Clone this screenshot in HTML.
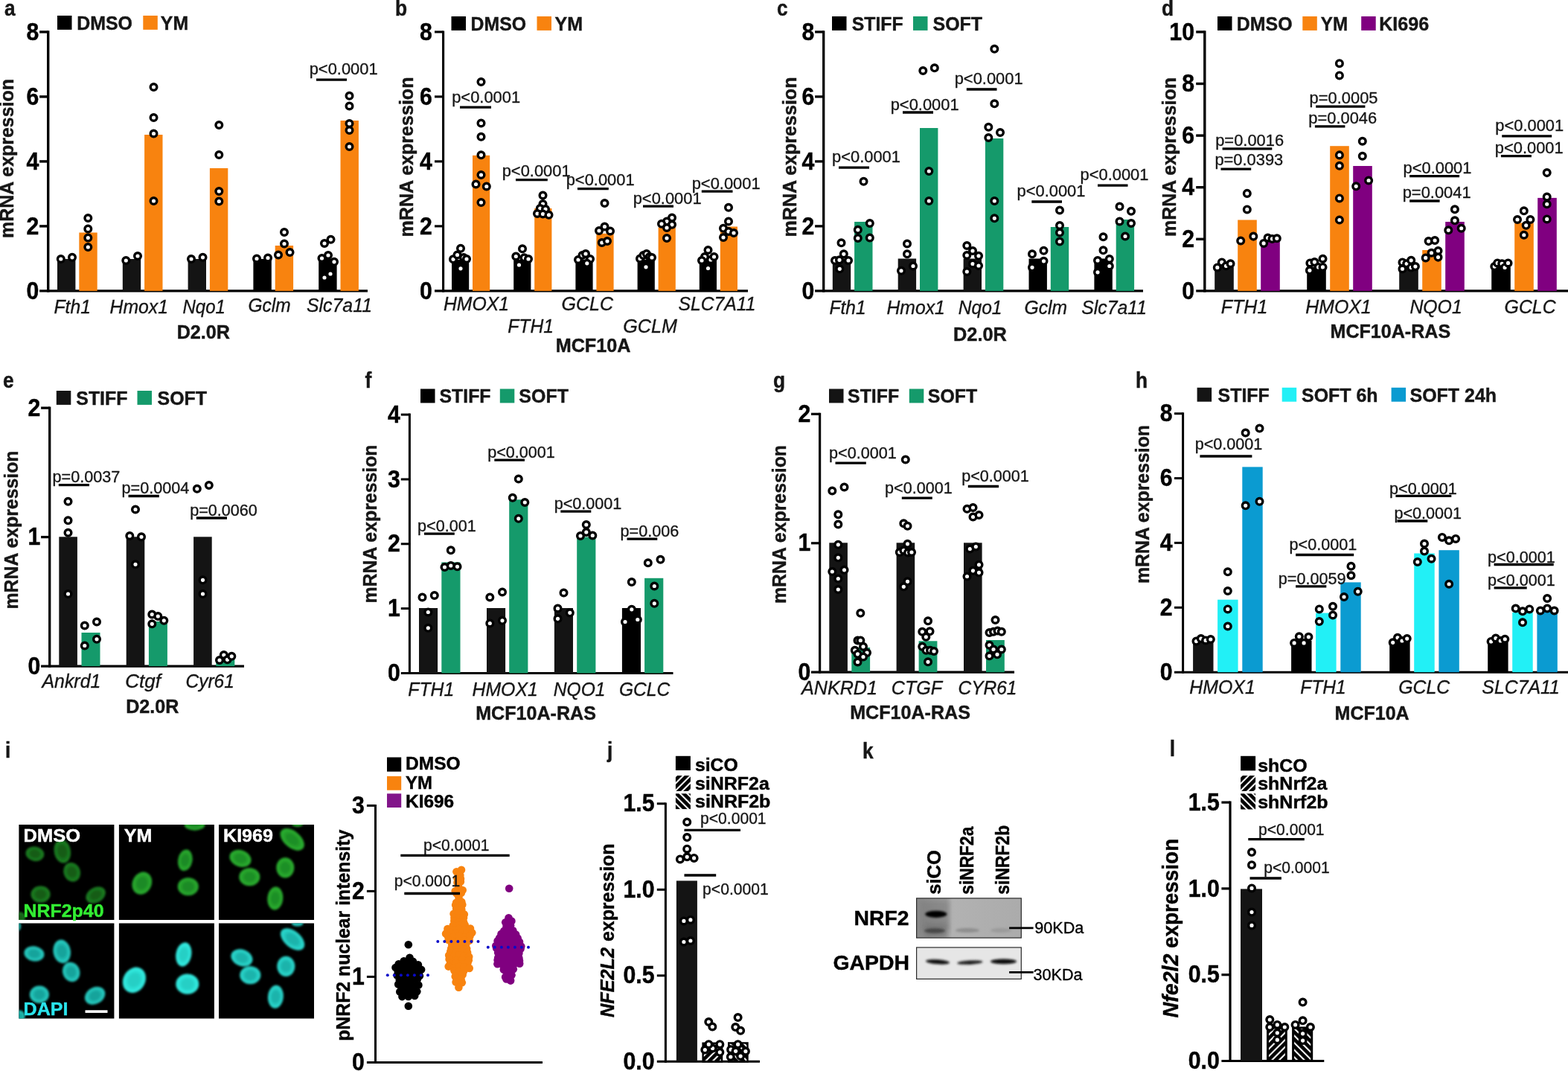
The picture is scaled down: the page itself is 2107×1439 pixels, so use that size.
<!DOCTYPE html>
<html lang="en"><head><meta charset="utf-8"><title>Figure</title>
<style>
html,body{margin:0;padding:0;background:#fff;}
body{width:2107px;height:1439px;overflow:hidden;}
svg{display:block;font-family:'Liberation Sans', Arial, Helvetica, sans-serif;}
svg text{font-family:"Liberation Sans",Arial,Helvetica,sans-serif;}
</style></head><body>
<svg width="2107" height="1439" viewBox="0 0 2107 1439">
<rect width="2107" height="1439" fill="#fff"/>
<text x="6.0" y="20.5" font-size="29" font-weight="700" textLength="14.6" lengthAdjust="spacingAndGlyphs" fill="#161616" stroke="#161616" stroke-width="0.45">a</text>
<rect x="77.0" y="21.0" width="19.5" height="18.9" fill="#000"/>
<text x="103.2" y="39.8" font-size="26" font-weight="700" textLength="74.8" lengthAdjust="spacingAndGlyphs" fill="#161616" stroke="#161616" stroke-width="0.45">DMSO</text>
<rect x="192.3" y="21.0" width="19.5" height="18.9" fill="#f8830f"/>
<text x="215.8" y="39.8" font-size="26" font-weight="700" textLength="37.3" lengthAdjust="spacingAndGlyphs" fill="#161616" stroke="#161616" stroke-width="0.45">YM</text>
<line x1="64.7" y1="41.2" x2="64.7" y2="392.6" stroke="#000" stroke-width="3.4"/>
<line x1="53.1" y1="390.9" x2="494.0" y2="390.9" stroke="#000" stroke-width="3.4"/>
<line x1="53.1" y1="42.9" x2="64.7" y2="42.9" stroke="#000" stroke-width="3.4"/>
<text x="52.4" y="53.5" font-size="32.5" font-weight="700" text-anchor="end" textLength="16.8" lengthAdjust="spacingAndGlyphs" stroke="#000" stroke-width="0.45">8</text>
<line x1="53.1" y1="129.9" x2="64.7" y2="129.9" stroke="#000" stroke-width="3.4"/>
<text x="52.4" y="140.5" font-size="32.5" font-weight="700" text-anchor="end" textLength="16.8" lengthAdjust="spacingAndGlyphs" stroke="#000" stroke-width="0.45">6</text>
<line x1="53.1" y1="216.9" x2="64.7" y2="216.9" stroke="#000" stroke-width="3.4"/>
<text x="52.4" y="227.5" font-size="32.5" font-weight="700" text-anchor="end" textLength="16.8" lengthAdjust="spacingAndGlyphs" stroke="#000" stroke-width="0.45">4</text>
<line x1="53.1" y1="303.9" x2="64.7" y2="303.9" stroke="#000" stroke-width="3.4"/>
<text x="52.4" y="314.5" font-size="32.5" font-weight="700" text-anchor="end" textLength="16.8" lengthAdjust="spacingAndGlyphs" stroke="#000" stroke-width="0.45">2</text>
<text x="52.4" y="401.5" font-size="32.5" font-weight="700" text-anchor="end" textLength="16.8" lengthAdjust="spacingAndGlyphs" stroke="#000" stroke-width="0.45">0</text>
<text x="18.3" y="213.0" font-size="25" font-weight="700" text-anchor="middle" textLength="214.0" lengthAdjust="spacingAndGlyphs" fill="#161616" stroke="#161616" stroke-width="0.45" transform="rotate(-90 18.3 213.0)">mRNA expression</text>
<rect x="77.0" y="348.0" width="24.4" height="42.9" fill="#141414"/>
<rect x="106.3" y="312.5" width="24.4" height="78.4" fill="#f8830f"/>
<rect x="164.8" y="348.0" width="24.4" height="42.9" fill="#141414"/>
<rect x="194.1" y="181.0" width="24.4" height="209.9" fill="#f8830f"/>
<rect x="252.6" y="348.0" width="24.4" height="42.9" fill="#141414"/>
<rect x="281.9" y="226.0" width="24.4" height="164.9" fill="#f8830f"/>
<rect x="340.4" y="348.0" width="24.4" height="42.9" fill="#000"/>
<rect x="369.7" y="330.0" width="24.4" height="60.9" fill="#f8830f"/>
<rect x="428.2" y="348.0" width="24.4" height="42.9" fill="#000"/>
<rect x="457.5" y="162.0" width="24.4" height="228.9" fill="#f8830f"/>
<circle cx="81.8" cy="348.0" r="4.3" fill="#fff" stroke="#000" stroke-width="3.45"/>
<circle cx="97.0" cy="345.8" r="4.3" fill="#fff" stroke="#000" stroke-width="3.45"/>
<circle cx="118.3" cy="293.0" r="4.3" fill="#fff" stroke="#000" stroke-width="3.45"/>
<circle cx="118.3" cy="307.5" r="4.3" fill="#fff" stroke="#000" stroke-width="3.45"/>
<circle cx="118.3" cy="319.5" r="4.3" fill="#fff" stroke="#000" stroke-width="3.45"/>
<circle cx="118.3" cy="332.0" r="4.3" fill="#fff" stroke="#000" stroke-width="3.45"/>
<circle cx="169.3" cy="350.0" r="4.3" fill="#fff" stroke="#000" stroke-width="3.45"/>
<circle cx="185.0" cy="344.0" r="4.3" fill="#fff" stroke="#000" stroke-width="3.45"/>
<circle cx="206.5" cy="117.0" r="4.3" fill="#fff" stroke="#000" stroke-width="3.45"/>
<circle cx="206.5" cy="158.0" r="4.3" fill="#fff" stroke="#000" stroke-width="3.45"/>
<circle cx="206.5" cy="179.5" r="4.3" fill="#fff" stroke="#000" stroke-width="3.45"/>
<circle cx="206.5" cy="270.0" r="4.3" fill="#fff" stroke="#000" stroke-width="3.45"/>
<circle cx="257.0" cy="348.0" r="4.3" fill="#fff" stroke="#000" stroke-width="3.45"/>
<circle cx="272.5" cy="345.8" r="4.3" fill="#fff" stroke="#000" stroke-width="3.45"/>
<circle cx="294.3" cy="168.0" r="4.3" fill="#fff" stroke="#000" stroke-width="3.45"/>
<circle cx="294.3" cy="208.0" r="4.3" fill="#fff" stroke="#000" stroke-width="3.45"/>
<circle cx="294.3" cy="257.0" r="4.3" fill="#fff" stroke="#000" stroke-width="3.45"/>
<circle cx="294.3" cy="270.5" r="4.3" fill="#fff" stroke="#000" stroke-width="3.45"/>
<circle cx="345.0" cy="347.5" r="4.3" fill="#fff" stroke="#000" stroke-width="3.45"/>
<circle cx="360.0" cy="346.5" r="4.3" fill="#fff" stroke="#000" stroke-width="3.45"/>
<circle cx="382.0" cy="312.0" r="4.3" fill="#fff" stroke="#000" stroke-width="3.45"/>
<circle cx="382.0" cy="327.5" r="4.3" fill="#fff" stroke="#000" stroke-width="3.45"/>
<circle cx="374.0" cy="342.5" r="4.3" fill="#fff" stroke="#000" stroke-width="3.45"/>
<circle cx="389.5" cy="339.0" r="4.3" fill="#fff" stroke="#000" stroke-width="3.45"/>
<circle cx="436.0" cy="327.0" r="4.3" fill="#fff" stroke="#000" stroke-width="3.45"/>
<circle cx="444.5" cy="321.8" r="4.3" fill="#fff" stroke="#000" stroke-width="3.45"/>
<circle cx="432.5" cy="347.0" r="4.3" fill="#fff" stroke="#000" stroke-width="3.45"/>
<circle cx="441.0" cy="343.0" r="4.3" fill="#fff" stroke="#000" stroke-width="3.45"/>
<circle cx="449.0" cy="351.8" r="4.3" fill="#fff" stroke="#000" stroke-width="3.45"/>
<circle cx="444.0" cy="368.0" r="4.3" fill="#fff" stroke="#000" stroke-width="3.45"/>
<circle cx="436.0" cy="373.0" r="4.3" fill="#fff" stroke="#000" stroke-width="3.45"/>
<circle cx="469.5" cy="128.8" r="4.3" fill="#fff" stroke="#000" stroke-width="3.45"/>
<circle cx="469.5" cy="142.5" r="4.3" fill="#fff" stroke="#000" stroke-width="3.45"/>
<circle cx="469.5" cy="166.0" r="4.3" fill="#fff" stroke="#000" stroke-width="3.45"/>
<circle cx="469.5" cy="175.0" r="4.3" fill="#fff" stroke="#000" stroke-width="3.45"/>
<circle cx="469.5" cy="197.0" r="4.3" fill="#fff" stroke="#000" stroke-width="3.45"/>
<text x="415.7" y="100.0" font-size="22.8" textLength="91.9" lengthAdjust="spacingAndGlyphs" fill="#161616" stroke="#161616" stroke-width="0.35">p&lt;0.0001</text>
<line x1="425.0" y1="107.2" x2="466.0" y2="107.2" stroke="#000" stroke-width="3.3"/>
<text x="72.5" y="420.5" font-size="25.3" font-style="italic" textLength="49.5" lengthAdjust="spacingAndGlyphs" fill="#161616" stroke="#161616" stroke-width="0.35">Fth1</text>
<text x="147.5" y="420.5" font-size="25.3" font-style="italic" textLength="78.5" lengthAdjust="spacingAndGlyphs" fill="#161616" stroke="#161616" stroke-width="0.35">Hmox1</text>
<text x="245.5" y="420.5" font-size="25.3" font-style="italic" textLength="57.5" lengthAdjust="spacingAndGlyphs" fill="#161616" stroke="#161616" stroke-width="0.35">Nqo1</text>
<text x="333.5" y="419.0" font-size="25.3" font-style="italic" textLength="57.0" lengthAdjust="spacingAndGlyphs" fill="#161616" stroke="#161616" stroke-width="0.35">Gclm</text>
<text x="412.0" y="419.0" font-size="25.3" font-style="italic" textLength="88.0" lengthAdjust="spacingAndGlyphs" fill="#161616" stroke="#161616" stroke-width="0.35">Slc7a11</text>
<text x="237.7" y="455.0" font-size="25" font-weight="700" textLength="71.3" lengthAdjust="spacingAndGlyphs" fill="#161616" stroke="#161616" stroke-width="0.45">D2.0R</text>
<text x="531.0" y="20.5" font-size="29" font-weight="700" textLength="16.1" lengthAdjust="spacingAndGlyphs" fill="#161616" stroke="#161616" stroke-width="0.45">b</text>
<rect x="606.5" y="22.0" width="19.5" height="18.9" fill="#000"/>
<text x="632.6" y="40.8" font-size="26" font-weight="700" textLength="74.5" lengthAdjust="spacingAndGlyphs" fill="#161616" stroke="#161616" stroke-width="0.45">DMSO</text>
<rect x="721.5" y="22.0" width="19.5" height="18.9" fill="#f8830f"/>
<text x="745.6" y="40.8" font-size="26" font-weight="700" textLength="37.5" lengthAdjust="spacingAndGlyphs" fill="#161616" stroke="#161616" stroke-width="0.45">YM</text>
<line x1="595.6" y1="41.4" x2="595.6" y2="392.4" stroke="#000" stroke-width="3.1"/>
<line x1="584.0" y1="390.9" x2="1005.0" y2="390.9" stroke="#000" stroke-width="3.1"/>
<line x1="584.0" y1="42.9" x2="595.6" y2="42.9" stroke="#000" stroke-width="3.1"/>
<text x="580.9" y="53.5" font-size="32.5" font-weight="700" text-anchor="end" textLength="16.8" lengthAdjust="spacingAndGlyphs" stroke="#000" stroke-width="0.45">8</text>
<line x1="584.0" y1="129.9" x2="595.6" y2="129.9" stroke="#000" stroke-width="3.1"/>
<text x="580.9" y="140.5" font-size="32.5" font-weight="700" text-anchor="end" textLength="16.8" lengthAdjust="spacingAndGlyphs" stroke="#000" stroke-width="0.45">6</text>
<line x1="584.0" y1="216.9" x2="595.6" y2="216.9" stroke="#000" stroke-width="3.1"/>
<text x="580.9" y="227.5" font-size="32.5" font-weight="700" text-anchor="end" textLength="16.8" lengthAdjust="spacingAndGlyphs" stroke="#000" stroke-width="0.45">4</text>
<line x1="584.0" y1="303.9" x2="595.6" y2="303.9" stroke="#000" stroke-width="3.1"/>
<text x="580.9" y="314.5" font-size="32.5" font-weight="700" text-anchor="end" textLength="16.8" lengthAdjust="spacingAndGlyphs" stroke="#000" stroke-width="0.45">2</text>
<text x="580.9" y="401.5" font-size="32.5" font-weight="700" text-anchor="end" textLength="16.8" lengthAdjust="spacingAndGlyphs" stroke="#000" stroke-width="0.45">0</text>
<text x="554.5" y="211.0" font-size="25" font-weight="700" text-anchor="middle" textLength="215.0" lengthAdjust="spacingAndGlyphs" fill="#161616" stroke="#161616" stroke-width="0.45" transform="rotate(-90 554.5 211.0)">mRNA expression</text>
<rect x="607.0" y="348.8" width="23.2" height="42.1" fill="#000"/>
<rect x="635.0" y="208.8" width="23.2" height="182.1" fill="#f8830f"/>
<rect x="690.2" y="348.8" width="23.2" height="42.1" fill="#000"/>
<rect x="718.2" y="280.0" width="23.2" height="110.9" fill="#f8830f"/>
<rect x="773.4" y="348.8" width="23.2" height="42.1" fill="#000"/>
<rect x="801.4" y="313.8" width="23.2" height="77.1" fill="#f8830f"/>
<rect x="856.6" y="348.8" width="23.2" height="42.1" fill="#000"/>
<rect x="884.6" y="305.5" width="23.2" height="85.4" fill="#f8830f"/>
<rect x="939.8" y="348.8" width="23.2" height="42.1" fill="#000"/>
<rect x="967.8" y="304.5" width="23.2" height="86.4" fill="#f8830f"/>
<circle cx="609.0" cy="348.3" r="4.3" fill="#fff" stroke="#000" stroke-width="3.45"/>
<circle cx="614.5" cy="342.5" r="4.3" fill="#fff" stroke="#000" stroke-width="3.45"/>
<circle cx="619.0" cy="333.8" r="4.3" fill="#fff" stroke="#000" stroke-width="3.45"/>
<circle cx="623.0" cy="346.0" r="4.3" fill="#fff" stroke="#000" stroke-width="3.45"/>
<circle cx="627.0" cy="348.0" r="4.3" fill="#fff" stroke="#000" stroke-width="3.45"/>
<circle cx="619.0" cy="360.8" r="4.3" fill="#fff" stroke="#000" stroke-width="3.45"/>
<circle cx="646.5" cy="110.0" r="4.3" fill="#fff" stroke="#000" stroke-width="3.45"/>
<circle cx="646.5" cy="165.5" r="4.3" fill="#fff" stroke="#000" stroke-width="3.45"/>
<circle cx="646.5" cy="183.8" r="4.3" fill="#fff" stroke="#000" stroke-width="3.45"/>
<circle cx="646.5" cy="208.3" r="4.3" fill="#fff" stroke="#000" stroke-width="3.45"/>
<circle cx="646.5" cy="235.0" r="4.3" fill="#fff" stroke="#000" stroke-width="3.45"/>
<circle cx="639.5" cy="247.5" r="4.3" fill="#fff" stroke="#000" stroke-width="3.45"/>
<circle cx="653.8" cy="250.5" r="4.3" fill="#fff" stroke="#000" stroke-width="3.45"/>
<circle cx="646.5" cy="272.0" r="4.3" fill="#fff" stroke="#000" stroke-width="3.45"/>
<circle cx="702.0" cy="334.3" r="4.3" fill="#fff" stroke="#000" stroke-width="3.45"/>
<circle cx="693.3" cy="344.5" r="4.3" fill="#fff" stroke="#000" stroke-width="3.45"/>
<circle cx="704.5" cy="346.3" r="4.3" fill="#fff" stroke="#000" stroke-width="3.45"/>
<circle cx="710.0" cy="348.0" r="4.3" fill="#fff" stroke="#000" stroke-width="3.45"/>
<circle cx="697.5" cy="356.0" r="4.3" fill="#fff" stroke="#000" stroke-width="3.45"/>
<circle cx="729.5" cy="262.5" r="4.3" fill="#fff" stroke="#000" stroke-width="3.45"/>
<circle cx="729.5" cy="274.0" r="4.3" fill="#fff" stroke="#000" stroke-width="3.45"/>
<circle cx="725.8" cy="280.0" r="4.3" fill="#fff" stroke="#000" stroke-width="3.45"/>
<circle cx="733.0" cy="281.0" r="4.3" fill="#fff" stroke="#000" stroke-width="3.45"/>
<circle cx="722.0" cy="287.0" r="4.3" fill="#fff" stroke="#000" stroke-width="3.45"/>
<circle cx="729.5" cy="287.5" r="4.3" fill="#fff" stroke="#000" stroke-width="3.45"/>
<circle cx="737.5" cy="288.8" r="4.3" fill="#fff" stroke="#000" stroke-width="3.45"/>
<circle cx="777.0" cy="349.0" r="4.3" fill="#fff" stroke="#000" stroke-width="3.45"/>
<circle cx="782.5" cy="343.0" r="4.3" fill="#fff" stroke="#000" stroke-width="3.45"/>
<circle cx="787.0" cy="341.0" r="4.3" fill="#fff" stroke="#000" stroke-width="3.45"/>
<circle cx="793.0" cy="348.0" r="4.3" fill="#fff" stroke="#000" stroke-width="3.45"/>
<circle cx="788.8" cy="353.8" r="4.3" fill="#fff" stroke="#000" stroke-width="3.45"/>
<circle cx="812.5" cy="273.0" r="4.3" fill="#fff" stroke="#000" stroke-width="3.45"/>
<circle cx="812.5" cy="304.5" r="4.3" fill="#fff" stroke="#000" stroke-width="3.45"/>
<circle cx="805.0" cy="310.0" r="4.3" fill="#fff" stroke="#000" stroke-width="3.45"/>
<circle cx="820.0" cy="310.5" r="4.3" fill="#fff" stroke="#000" stroke-width="3.45"/>
<circle cx="808.8" cy="326.0" r="4.3" fill="#fff" stroke="#000" stroke-width="3.45"/>
<circle cx="816.0" cy="324.0" r="4.3" fill="#fff" stroke="#000" stroke-width="3.45"/>
<circle cx="860.0" cy="347.5" r="4.3" fill="#fff" stroke="#000" stroke-width="3.45"/>
<circle cx="864.5" cy="343.0" r="4.3" fill="#fff" stroke="#000" stroke-width="3.45"/>
<circle cx="868.8" cy="341.0" r="4.3" fill="#fff" stroke="#000" stroke-width="3.45"/>
<circle cx="872.8" cy="345.0" r="4.3" fill="#fff" stroke="#000" stroke-width="3.45"/>
<circle cx="876.0" cy="346.0" r="4.3" fill="#fff" stroke="#000" stroke-width="3.45"/>
<circle cx="868.0" cy="358.8" r="4.3" fill="#fff" stroke="#000" stroke-width="3.45"/>
<circle cx="903.0" cy="292.5" r="4.3" fill="#fff" stroke="#000" stroke-width="3.45"/>
<circle cx="896.0" cy="297.5" r="4.3" fill="#fff" stroke="#000" stroke-width="3.45"/>
<circle cx="889.0" cy="300.8" r="4.3" fill="#fff" stroke="#000" stroke-width="3.45"/>
<circle cx="903.0" cy="301.8" r="4.3" fill="#fff" stroke="#000" stroke-width="3.45"/>
<circle cx="896.0" cy="306.0" r="4.3" fill="#fff" stroke="#000" stroke-width="3.45"/>
<circle cx="896.0" cy="320.0" r="4.3" fill="#fff" stroke="#000" stroke-width="3.45"/>
<circle cx="951.5" cy="336.0" r="4.3" fill="#fff" stroke="#000" stroke-width="3.45"/>
<circle cx="947.0" cy="345.0" r="4.3" fill="#fff" stroke="#000" stroke-width="3.45"/>
<circle cx="943.0" cy="350.0" r="4.3" fill="#fff" stroke="#000" stroke-width="3.45"/>
<circle cx="955.0" cy="349.0" r="4.3" fill="#fff" stroke="#000" stroke-width="3.45"/>
<circle cx="959.5" cy="345.0" r="4.3" fill="#fff" stroke="#000" stroke-width="3.45"/>
<circle cx="951.5" cy="360.5" r="4.3" fill="#fff" stroke="#000" stroke-width="3.45"/>
<circle cx="979.0" cy="278.8" r="4.3" fill="#fff" stroke="#000" stroke-width="3.45"/>
<circle cx="979.0" cy="297.5" r="4.3" fill="#fff" stroke="#000" stroke-width="3.45"/>
<circle cx="972.0" cy="306.8" r="4.3" fill="#fff" stroke="#000" stroke-width="3.45"/>
<circle cx="979.0" cy="311.0" r="4.3" fill="#fff" stroke="#000" stroke-width="3.45"/>
<circle cx="986.0" cy="313.0" r="4.3" fill="#fff" stroke="#000" stroke-width="3.45"/>
<circle cx="972.0" cy="319.0" r="4.3" fill="#fff" stroke="#000" stroke-width="3.45"/>
<text x="607.2" y="138.0" font-size="22.8" textLength="91.9" lengthAdjust="spacingAndGlyphs" fill="#161616" stroke="#161616" stroke-width="0.35">p&lt;0.0001</text>
<line x1="618.0" y1="144.2" x2="660.0" y2="144.2" stroke="#000" stroke-width="3.3"/>
<text x="674.7" y="237.0" font-size="22.8" textLength="91.9" lengthAdjust="spacingAndGlyphs" fill="#161616" stroke="#161616" stroke-width="0.35">p&lt;0.0001</text>
<line x1="693.0" y1="241.7" x2="735.8" y2="241.7" stroke="#000" stroke-width="3.3"/>
<text x="760.7" y="248.8" font-size="22.8" textLength="91.9" lengthAdjust="spacingAndGlyphs" fill="#161616" stroke="#161616" stroke-width="0.35">p&lt;0.0001</text>
<line x1="776.0" y1="253.7" x2="817.8" y2="253.7" stroke="#000" stroke-width="3.3"/>
<text x="850.7" y="274.0" font-size="22.8" textLength="91.9" lengthAdjust="spacingAndGlyphs" fill="#161616" stroke="#161616" stroke-width="0.35">p&lt;0.0001</text>
<line x1="864.0" y1="277.2" x2="905.0" y2="277.2" stroke="#000" stroke-width="3.3"/>
<text x="929.7" y="254.0" font-size="22.8" textLength="91.9" lengthAdjust="spacingAndGlyphs" fill="#161616" stroke="#161616" stroke-width="0.35">p&lt;0.0001</text>
<line x1="942.8" y1="257.2" x2="984.5" y2="257.2" stroke="#000" stroke-width="3.3"/>
<text x="596.0" y="417.0" font-size="25.3" font-style="italic" textLength="88.0" lengthAdjust="spacingAndGlyphs" fill="#161616" stroke="#161616" stroke-width="0.35">HMOX1</text>
<text x="754.5" y="417.0" font-size="25.3" font-style="italic" textLength="69.5" lengthAdjust="spacingAndGlyphs" fill="#161616" stroke="#161616" stroke-width="0.35">GCLC</text>
<text x="911.5" y="417.0" font-size="25.3" font-style="italic" textLength="104.0" lengthAdjust="spacingAndGlyphs" fill="#161616" stroke="#161616" stroke-width="0.35">SLC7A11</text>
<text x="682.3" y="447.0" font-size="25.3" font-style="italic" textLength="61.7" lengthAdjust="spacingAndGlyphs" fill="#161616" stroke="#161616" stroke-width="0.35">FTH1</text>
<text x="837.3" y="447.0" font-size="25.3" font-style="italic" textLength="72.7" lengthAdjust="spacingAndGlyphs" fill="#161616" stroke="#161616" stroke-width="0.35">GCLM</text>
<text x="746.7" y="472.5" font-size="25" font-weight="700" textLength="100.8" lengthAdjust="spacingAndGlyphs" fill="#161616" stroke="#161616" stroke-width="0.45">MCF10A</text>
<text x="1044.0" y="20.5" font-size="29" font-weight="700" textLength="14.6" lengthAdjust="spacingAndGlyphs" fill="#161616" stroke="#161616" stroke-width="0.45">c</text>
<rect x="1118.0" y="22.0" width="19.5" height="18.9" fill="#000"/>
<text x="1144.8" y="40.8" font-size="26" font-weight="700" textLength="68.8" lengthAdjust="spacingAndGlyphs" fill="#161616" stroke="#161616" stroke-width="0.45">STIFF</text>
<rect x="1227.0" y="22.0" width="19.5" height="18.9" fill="#159a6b"/>
<text x="1253.6" y="40.8" font-size="26" font-weight="700" textLength="66.5" lengthAdjust="spacingAndGlyphs" fill="#161616" stroke="#161616" stroke-width="0.45">SOFT</text>
<line x1="1106.7" y1="41.2" x2="1106.7" y2="392.5" stroke="#000" stroke-width="3.3"/>
<line x1="1095.1" y1="390.9" x2="1536.0" y2="390.9" stroke="#000" stroke-width="3.3"/>
<line x1="1095.1" y1="42.9" x2="1106.7" y2="42.9" stroke="#000" stroke-width="3.3"/>
<text x="1094.2" y="53.5" font-size="32.5" font-weight="700" text-anchor="end" textLength="16.8" lengthAdjust="spacingAndGlyphs" stroke="#000" stroke-width="0.45">8</text>
<line x1="1095.1" y1="129.9" x2="1106.7" y2="129.9" stroke="#000" stroke-width="3.3"/>
<text x="1094.2" y="140.5" font-size="32.5" font-weight="700" text-anchor="end" textLength="16.8" lengthAdjust="spacingAndGlyphs" stroke="#000" stroke-width="0.45">6</text>
<line x1="1095.1" y1="216.9" x2="1106.7" y2="216.9" stroke="#000" stroke-width="3.3"/>
<text x="1094.2" y="227.5" font-size="32.5" font-weight="700" text-anchor="end" textLength="16.8" lengthAdjust="spacingAndGlyphs" stroke="#000" stroke-width="0.45">4</text>
<line x1="1095.1" y1="303.9" x2="1106.7" y2="303.9" stroke="#000" stroke-width="3.3"/>
<text x="1094.2" y="314.5" font-size="32.5" font-weight="700" text-anchor="end" textLength="16.8" lengthAdjust="spacingAndGlyphs" stroke="#000" stroke-width="0.45">2</text>
<text x="1094.2" y="401.5" font-size="32.5" font-weight="700" text-anchor="end" textLength="16.8" lengthAdjust="spacingAndGlyphs" stroke="#000" stroke-width="0.45">0</text>
<text x="1069.5" y="211.0" font-size="25" font-weight="700" text-anchor="middle" textLength="215.0" lengthAdjust="spacingAndGlyphs" fill="#161616" stroke="#161616" stroke-width="0.45" transform="rotate(-90 1069.5 211.0)">mRNA expression</text>
<rect x="1118.8" y="347.5" width="24.4" height="43.4" fill="#141414"/>
<rect x="1148.1" y="298.0" width="24.4" height="92.9" fill="#159a6b"/>
<rect x="1206.7" y="347.5" width="24.4" height="43.4" fill="#141414"/>
<rect x="1236.0" y="172.0" width="24.4" height="218.9" fill="#159a6b"/>
<rect x="1294.6" y="347.5" width="24.4" height="43.4" fill="#141414"/>
<rect x="1323.9" y="186.0" width="24.4" height="204.9" fill="#159a6b"/>
<rect x="1382.5" y="347.5" width="24.4" height="43.4" fill="#000"/>
<rect x="1411.8" y="305.0" width="24.4" height="85.9" fill="#159a6b"/>
<rect x="1470.4" y="347.5" width="24.4" height="43.4" fill="#000"/>
<rect x="1499.7" y="295.0" width="24.4" height="95.9" fill="#159a6b"/>
<circle cx="1130.5" cy="326.3" r="4.3" fill="#fff" stroke="#000" stroke-width="3.45"/>
<circle cx="1133.8" cy="341.3" r="4.3" fill="#fff" stroke="#000" stroke-width="3.45"/>
<circle cx="1122.0" cy="350.0" r="4.3" fill="#fff" stroke="#000" stroke-width="3.45"/>
<circle cx="1128.0" cy="349.3" r="4.3" fill="#fff" stroke="#000" stroke-width="3.45"/>
<circle cx="1140.0" cy="350.0" r="4.3" fill="#fff" stroke="#000" stroke-width="3.45"/>
<circle cx="1128.3" cy="361.3" r="4.3" fill="#fff" stroke="#000" stroke-width="3.45"/>
<circle cx="1160.5" cy="243.8" r="4.3" fill="#fff" stroke="#000" stroke-width="3.45"/>
<circle cx="1168.8" cy="300.0" r="4.3" fill="#fff" stroke="#000" stroke-width="3.45"/>
<circle cx="1152.8" cy="308.8" r="4.3" fill="#fff" stroke="#000" stroke-width="3.45"/>
<circle cx="1152.8" cy="320.0" r="4.3" fill="#fff" stroke="#000" stroke-width="3.45"/>
<circle cx="1168.8" cy="319.5" r="4.3" fill="#fff" stroke="#000" stroke-width="3.45"/>
<circle cx="1219.0" cy="327.5" r="4.3" fill="#fff" stroke="#000" stroke-width="3.45"/>
<circle cx="1219.0" cy="341.3" r="4.3" fill="#fff" stroke="#000" stroke-width="3.45"/>
<circle cx="1227.0" cy="357.5" r="4.3" fill="#fff" stroke="#000" stroke-width="3.45"/>
<circle cx="1211.0" cy="363.8" r="4.3" fill="#fff" stroke="#000" stroke-width="3.45"/>
<circle cx="1240.3" cy="95.0" r="4.3" fill="#fff" stroke="#000" stroke-width="3.45"/>
<circle cx="1255.8" cy="91.3" r="4.3" fill="#fff" stroke="#000" stroke-width="3.45"/>
<circle cx="1248.3" cy="230.0" r="4.3" fill="#fff" stroke="#000" stroke-width="3.45"/>
<circle cx="1248.3" cy="270.0" r="4.3" fill="#fff" stroke="#000" stroke-width="3.45"/>
<circle cx="1299.3" cy="330.0" r="4.3" fill="#fff" stroke="#000" stroke-width="3.45"/>
<circle cx="1307.0" cy="337.0" r="4.3" fill="#fff" stroke="#000" stroke-width="3.45"/>
<circle cx="1299.3" cy="343.0" r="4.3" fill="#fff" stroke="#000" stroke-width="3.45"/>
<circle cx="1315.0" cy="343.8" r="4.3" fill="#fff" stroke="#000" stroke-width="3.45"/>
<circle cx="1307.0" cy="354.5" r="4.3" fill="#fff" stroke="#000" stroke-width="3.45"/>
<circle cx="1315.0" cy="357.0" r="4.3" fill="#fff" stroke="#000" stroke-width="3.45"/>
<circle cx="1299.3" cy="365.0" r="4.3" fill="#fff" stroke="#000" stroke-width="3.45"/>
<circle cx="1336.3" cy="65.8" r="4.3" fill="#fff" stroke="#000" stroke-width="3.45"/>
<circle cx="1336.3" cy="139.3" r="4.3" fill="#fff" stroke="#000" stroke-width="3.45"/>
<circle cx="1328.3" cy="170.8" r="4.3" fill="#fff" stroke="#000" stroke-width="3.45"/>
<circle cx="1344.0" cy="178.0" r="4.3" fill="#fff" stroke="#000" stroke-width="3.45"/>
<circle cx="1328.3" cy="185.0" r="4.3" fill="#fff" stroke="#000" stroke-width="3.45"/>
<circle cx="1336.3" cy="270.0" r="4.3" fill="#fff" stroke="#000" stroke-width="3.45"/>
<circle cx="1336.3" cy="293.3" r="4.3" fill="#fff" stroke="#000" stroke-width="3.45"/>
<circle cx="1387.0" cy="341.3" r="4.3" fill="#fff" stroke="#000" stroke-width="3.45"/>
<circle cx="1402.5" cy="336.8" r="4.3" fill="#fff" stroke="#000" stroke-width="3.45"/>
<circle cx="1402.5" cy="350.8" r="4.3" fill="#fff" stroke="#000" stroke-width="3.45"/>
<circle cx="1387.0" cy="359.3" r="4.3" fill="#fff" stroke="#000" stroke-width="3.45"/>
<circle cx="1424.0" cy="282.5" r="4.3" fill="#fff" stroke="#000" stroke-width="3.45"/>
<circle cx="1424.0" cy="303.0" r="4.3" fill="#fff" stroke="#000" stroke-width="3.45"/>
<circle cx="1424.0" cy="312.5" r="4.3" fill="#fff" stroke="#000" stroke-width="3.45"/>
<circle cx="1424.0" cy="324.5" r="4.3" fill="#fff" stroke="#000" stroke-width="3.45"/>
<circle cx="1482.5" cy="318.3" r="4.3" fill="#fff" stroke="#000" stroke-width="3.45"/>
<circle cx="1482.5" cy="336.3" r="4.3" fill="#fff" stroke="#000" stroke-width="3.45"/>
<circle cx="1475.0" cy="350.0" r="4.3" fill="#fff" stroke="#000" stroke-width="3.45"/>
<circle cx="1490.8" cy="348.0" r="4.3" fill="#fff" stroke="#000" stroke-width="3.45"/>
<circle cx="1490.8" cy="357.5" r="4.3" fill="#fff" stroke="#000" stroke-width="3.45"/>
<circle cx="1475.0" cy="365.8" r="4.3" fill="#fff" stroke="#000" stroke-width="3.45"/>
<circle cx="1504.5" cy="277.5" r="4.3" fill="#fff" stroke="#000" stroke-width="3.45"/>
<circle cx="1520.0" cy="283.8" r="4.3" fill="#fff" stroke="#000" stroke-width="3.45"/>
<circle cx="1504.5" cy="297.5" r="4.3" fill="#fff" stroke="#000" stroke-width="3.45"/>
<circle cx="1520.0" cy="300.0" r="4.3" fill="#fff" stroke="#000" stroke-width="3.45"/>
<circle cx="1512.0" cy="317.5" r="4.3" fill="#fff" stroke="#000" stroke-width="3.45"/>
<text x="1118.0" y="218.0" font-size="22.8" textLength="91.9" lengthAdjust="spacingAndGlyphs" fill="#161616" stroke="#161616" stroke-width="0.35">p&lt;0.0001</text>
<line x1="1127.0" y1="225.2" x2="1168.0" y2="225.2" stroke="#000" stroke-width="3.3"/>
<text x="1196.7" y="147.5" font-size="22.8" textLength="91.9" lengthAdjust="spacingAndGlyphs" fill="#161616" stroke="#161616" stroke-width="0.35">p&lt;0.0001</text>
<line x1="1213.0" y1="151.0" x2="1254.0" y2="151.0" stroke="#000" stroke-width="3.3"/>
<text x="1282.7" y="112.5" font-size="22.8" textLength="91.9" lengthAdjust="spacingAndGlyphs" fill="#161616" stroke="#161616" stroke-width="0.35">p&lt;0.0001</text>
<line x1="1298.8" y1="120.0" x2="1339.5" y2="120.0" stroke="#000" stroke-width="3.3"/>
<text x="1366.5" y="264.3" font-size="22.8" textLength="91.9" lengthAdjust="spacingAndGlyphs" fill="#161616" stroke="#161616" stroke-width="0.35">p&lt;0.0001</text>
<line x1="1386.3" y1="271.0" x2="1427.0" y2="271.0" stroke="#000" stroke-width="3.3"/>
<text x="1451.5" y="242.0" font-size="22.8" textLength="91.9" lengthAdjust="spacingAndGlyphs" fill="#161616" stroke="#161616" stroke-width="0.35">p&lt;0.0001</text>
<line x1="1475.0" y1="249.2" x2="1515.5" y2="249.2" stroke="#000" stroke-width="3.3"/>
<text x="1114.5" y="421.6" font-size="25.3" font-style="italic" textLength="49.0" lengthAdjust="spacingAndGlyphs" fill="#161616" stroke="#161616" stroke-width="0.35">Fth1</text>
<text x="1191.5" y="421.6" font-size="25.3" font-style="italic" textLength="78.3" lengthAdjust="spacingAndGlyphs" fill="#161616" stroke="#161616" stroke-width="0.35">Hmox1</text>
<text x="1287.8" y="421.6" font-size="25.3" font-style="italic" textLength="58.7" lengthAdjust="spacingAndGlyphs" fill="#161616" stroke="#161616" stroke-width="0.35">Nqo1</text>
<text x="1376.5" y="421.6" font-size="25.3" font-style="italic" textLength="57.5" lengthAdjust="spacingAndGlyphs" fill="#161616" stroke="#161616" stroke-width="0.35">Gclm</text>
<text x="1453.3" y="421.6" font-size="25.3" font-style="italic" textLength="87.7" lengthAdjust="spacingAndGlyphs" fill="#161616" stroke="#161616" stroke-width="0.35">Slc7a11</text>
<text x="1281.0" y="457.5" font-size="25" font-weight="700" textLength="71.8" lengthAdjust="spacingAndGlyphs" fill="#161616" stroke="#161616" stroke-width="0.45">D2.0R</text>
<text x="1561.0" y="20.5" font-size="29" font-weight="700" textLength="16.1" lengthAdjust="spacingAndGlyphs" fill="#161616" stroke="#161616" stroke-width="0.45">d</text>
<rect x="1636.0" y="22.0" width="19.5" height="18.9" fill="#000"/>
<text x="1661.8" y="40.8" font-size="26" font-weight="700" textLength="74.8" lengthAdjust="spacingAndGlyphs" fill="#161616" stroke="#161616" stroke-width="0.45">DMSO</text>
<rect x="1750.3" y="22.0" width="19.5" height="18.9" fill="#f8830f"/>
<text x="1774.8" y="40.8" font-size="26" font-weight="700" textLength="36.3" lengthAdjust="spacingAndGlyphs" fill="#161616" stroke="#161616" stroke-width="0.45">YM</text>
<rect x="1829.2" y="22.0" width="19.5" height="18.9" fill="#800080"/>
<text x="1853.2" y="40.8" font-size="26" font-weight="700" textLength="67.0" lengthAdjust="spacingAndGlyphs" fill="#161616" stroke="#161616" stroke-width="0.45">KI696</text>
<line x1="1618.8" y1="41.2" x2="1618.8" y2="392.6" stroke="#000" stroke-width="3.4"/>
<line x1="1607.2" y1="390.9" x2="2107.0" y2="390.9" stroke="#000" stroke-width="3.4"/>
<line x1="1607.2" y1="42.9" x2="1618.8" y2="42.9" stroke="#000" stroke-width="3.4"/>
<text x="1605.0" y="53.5" font-size="32.5" font-weight="700" text-anchor="end" textLength="33.7" lengthAdjust="spacingAndGlyphs" stroke="#000" stroke-width="0.45">10</text>
<line x1="1607.2" y1="112.5" x2="1618.8" y2="112.5" stroke="#000" stroke-width="3.4"/>
<text x="1605.0" y="123.1" font-size="32.5" font-weight="700" text-anchor="end" textLength="16.8" lengthAdjust="spacingAndGlyphs" stroke="#000" stroke-width="0.45">8</text>
<line x1="1607.2" y1="182.1" x2="1618.8" y2="182.1" stroke="#000" stroke-width="3.4"/>
<text x="1605.0" y="192.7" font-size="32.5" font-weight="700" text-anchor="end" textLength="16.8" lengthAdjust="spacingAndGlyphs" stroke="#000" stroke-width="0.45">6</text>
<line x1="1607.2" y1="251.7" x2="1618.8" y2="251.7" stroke="#000" stroke-width="3.4"/>
<text x="1605.0" y="262.3" font-size="32.5" font-weight="700" text-anchor="end" textLength="16.8" lengthAdjust="spacingAndGlyphs" stroke="#000" stroke-width="0.45">4</text>
<line x1="1607.2" y1="321.3" x2="1618.8" y2="321.3" stroke="#000" stroke-width="3.4"/>
<text x="1605.0" y="331.9" font-size="32.5" font-weight="700" text-anchor="end" textLength="16.8" lengthAdjust="spacingAndGlyphs" stroke="#000" stroke-width="0.45">2</text>
<text x="1605.0" y="401.5" font-size="32.5" font-weight="700" text-anchor="end" textLength="16.8" lengthAdjust="spacingAndGlyphs" stroke="#000" stroke-width="0.45">0</text>
<text x="1579.5" y="211.0" font-size="25" font-weight="700" text-anchor="middle" textLength="214.0" lengthAdjust="spacingAndGlyphs" fill="#161616" stroke="#161616" stroke-width="0.45" transform="rotate(-90 1579.5 211.0)">mRNA expression</text>
<rect x="1632.2" y="358.5" width="25.6" height="32.4" fill="#141414"/>
<rect x="1663.2" y="295.5" width="25.6" height="95.4" fill="#f8830f"/>
<rect x="1694.2" y="322.0" width="25.6" height="68.9" fill="#800080"/>
<rect x="1756.2" y="358.5" width="25.6" height="32.4" fill="#000"/>
<rect x="1787.2" y="196.2" width="25.6" height="194.7" fill="#f8830f"/>
<rect x="1818.2" y="223.0" width="25.6" height="167.9" fill="#800080"/>
<rect x="1880.2" y="358.5" width="25.6" height="32.4" fill="#141414"/>
<rect x="1911.2" y="336.0" width="25.6" height="54.9" fill="#f8830f"/>
<rect x="1942.2" y="298.0" width="25.6" height="92.9" fill="#800080"/>
<rect x="2004.2" y="358.5" width="25.6" height="32.4" fill="#000"/>
<rect x="2035.2" y="299.5" width="25.6" height="91.4" fill="#f8830f"/>
<rect x="2066.2" y="265.9" width="25.6" height="125.0" fill="#800080"/>
<circle cx="1635.8" cy="359.4" r="4.3" fill="#fff" stroke="#000" stroke-width="3.45"/>
<circle cx="1641.8" cy="352.4" r="4.3" fill="#fff" stroke="#000" stroke-width="3.45"/>
<circle cx="1647.5" cy="357.3" r="4.3" fill="#fff" stroke="#000" stroke-width="3.45"/>
<circle cx="1653.5" cy="354.2" r="4.3" fill="#fff" stroke="#000" stroke-width="3.45"/>
<circle cx="1675.8" cy="259.9" r="4.3" fill="#fff" stroke="#000" stroke-width="3.45"/>
<circle cx="1675.8" cy="281.4" r="4.3" fill="#fff" stroke="#000" stroke-width="3.45"/>
<circle cx="1667.2" cy="323.5" r="4.3" fill="#fff" stroke="#000" stroke-width="3.45"/>
<circle cx="1684.3" cy="317.6" r="4.3" fill="#fff" stroke="#000" stroke-width="3.45"/>
<circle cx="1698.1" cy="326.9" r="4.3" fill="#fff" stroke="#000" stroke-width="3.45"/>
<circle cx="1703.6" cy="319.6" r="4.3" fill="#fff" stroke="#000" stroke-width="3.45"/>
<circle cx="1709.5" cy="320.9" r="4.3" fill="#fff" stroke="#000" stroke-width="3.45"/>
<circle cx="1715.8" cy="320.2" r="4.3" fill="#fff" stroke="#000" stroke-width="3.45"/>
<circle cx="1759.9" cy="363.3" r="4.3" fill="#fff" stroke="#000" stroke-width="3.45"/>
<circle cx="1760.4" cy="353.4" r="4.3" fill="#fff" stroke="#000" stroke-width="3.45"/>
<circle cx="1766.4" cy="352.1" r="4.3" fill="#fff" stroke="#000" stroke-width="3.45"/>
<circle cx="1771.6" cy="358.9" r="4.3" fill="#fff" stroke="#000" stroke-width="3.45"/>
<circle cx="1777.5" cy="347.7" r="4.3" fill="#fff" stroke="#000" stroke-width="3.45"/>
<circle cx="1777.5" cy="358.9" r="4.3" fill="#fff" stroke="#000" stroke-width="3.45"/>
<circle cx="1799.9" cy="85.2" r="4.3" fill="#fff" stroke="#000" stroke-width="3.45"/>
<circle cx="1799.9" cy="101.4" r="4.3" fill="#fff" stroke="#000" stroke-width="3.45"/>
<circle cx="1799.9" cy="208.4" r="4.3" fill="#fff" stroke="#000" stroke-width="3.45"/>
<circle cx="1799.9" cy="222.7" r="4.3" fill="#fff" stroke="#000" stroke-width="3.45"/>
<circle cx="1799.9" cy="266.4" r="4.3" fill="#fff" stroke="#000" stroke-width="3.45"/>
<circle cx="1799.9" cy="295.5" r="4.3" fill="#fff" stroke="#000" stroke-width="3.45"/>
<circle cx="1830.8" cy="189.7" r="4.3" fill="#fff" stroke="#000" stroke-width="3.45"/>
<circle cx="1830.8" cy="209.7" r="4.3" fill="#fff" stroke="#000" stroke-width="3.45"/>
<circle cx="1839.1" cy="242.5" r="4.3" fill="#fff" stroke="#000" stroke-width="3.45"/>
<circle cx="1822.2" cy="250.3" r="4.3" fill="#fff" stroke="#000" stroke-width="3.45"/>
<circle cx="1884.5" cy="361.2" r="4.3" fill="#fff" stroke="#000" stroke-width="3.45"/>
<circle cx="1884.5" cy="352.4" r="4.3" fill="#fff" stroke="#000" stroke-width="3.45"/>
<circle cx="1890.2" cy="354.2" r="4.3" fill="#fff" stroke="#000" stroke-width="3.45"/>
<circle cx="1896.2" cy="349.8" r="4.3" fill="#fff" stroke="#000" stroke-width="3.45"/>
<circle cx="1896.2" cy="359.4" r="4.3" fill="#fff" stroke="#000" stroke-width="3.45"/>
<circle cx="1901.9" cy="358.1" r="4.3" fill="#fff" stroke="#000" stroke-width="3.45"/>
<circle cx="1919.6" cy="324.1" r="4.3" fill="#fff" stroke="#000" stroke-width="3.45"/>
<circle cx="1928.1" cy="323.0" r="4.3" fill="#fff" stroke="#000" stroke-width="3.45"/>
<circle cx="1932.5" cy="337.1" r="4.3" fill="#fff" stroke="#000" stroke-width="3.45"/>
<circle cx="1923.5" cy="339.7" r="4.3" fill="#fff" stroke="#000" stroke-width="3.45"/>
<circle cx="1915.7" cy="346.4" r="4.3" fill="#fff" stroke="#000" stroke-width="3.45"/>
<circle cx="1932.5" cy="345.6" r="4.3" fill="#fff" stroke="#000" stroke-width="3.45"/>
<circle cx="1954.9" cy="281.2" r="4.3" fill="#fff" stroke="#000" stroke-width="3.45"/>
<circle cx="1954.9" cy="296.3" r="4.3" fill="#fff" stroke="#000" stroke-width="3.45"/>
<circle cx="1946.3" cy="309.3" r="4.3" fill="#fff" stroke="#000" stroke-width="3.45"/>
<circle cx="1963.7" cy="306.7" r="4.3" fill="#fff" stroke="#000" stroke-width="3.45"/>
<circle cx="2008.3" cy="358.1" r="4.3" fill="#fff" stroke="#000" stroke-width="3.45"/>
<circle cx="2012.2" cy="353.4" r="4.3" fill="#fff" stroke="#000" stroke-width="3.45"/>
<circle cx="2018.2" cy="354.2" r="4.3" fill="#fff" stroke="#000" stroke-width="3.45"/>
<circle cx="2022.1" cy="359.4" r="4.3" fill="#fff" stroke="#000" stroke-width="3.45"/>
<circle cx="2026.5" cy="353.4" r="4.3" fill="#fff" stroke="#000" stroke-width="3.45"/>
<circle cx="2047.8" cy="283.3" r="4.3" fill="#fff" stroke="#000" stroke-width="3.45"/>
<circle cx="2039.0" cy="295.0" r="4.3" fill="#fff" stroke="#000" stroke-width="3.45"/>
<circle cx="2056.4" cy="295.0" r="4.3" fill="#fff" stroke="#000" stroke-width="3.45"/>
<circle cx="2050.7" cy="302.8" r="4.3" fill="#fff" stroke="#000" stroke-width="3.45"/>
<circle cx="2047.8" cy="315.7" r="4.3" fill="#fff" stroke="#000" stroke-width="3.45"/>
<circle cx="2078.7" cy="232.1" r="4.3" fill="#fff" stroke="#000" stroke-width="3.45"/>
<circle cx="2078.7" cy="264.6" r="4.3" fill="#fff" stroke="#000" stroke-width="3.45"/>
<circle cx="2078.7" cy="274.2" r="4.3" fill="#fff" stroke="#000" stroke-width="3.45"/>
<circle cx="2078.7" cy="294.4" r="4.3" fill="#fff" stroke="#000" stroke-width="3.45"/>
<text x="1633.2" y="196.2" font-size="22.8" textLength="91.9" lengthAdjust="spacingAndGlyphs" fill="#161616" stroke="#161616" stroke-width="0.35">p=0.0016</text>
<line x1="1642.6" y1="199.8" x2="1709.3" y2="199.8" stroke="#000" stroke-width="3.3"/>
<text x="1632.4" y="222.2" font-size="22.8" textLength="91.9" lengthAdjust="spacingAndGlyphs" fill="#161616" stroke="#161616" stroke-width="0.35">p=0.0393</text>
<line x1="1640.5" y1="227.1" x2="1681.2" y2="227.1" stroke="#000" stroke-width="3.3"/>
<text x="1759.6" y="139.0" font-size="22.8" textLength="91.9" lengthAdjust="spacingAndGlyphs" fill="#161616" stroke="#161616" stroke-width="0.35">p=0.0005</text>
<line x1="1768.2" y1="143.2" x2="1834.4" y2="143.2" stroke="#000" stroke-width="3.3"/>
<text x="1758.3" y="165.5" font-size="22.8" textLength="91.9" lengthAdjust="spacingAndGlyphs" fill="#161616" stroke="#161616" stroke-width="0.35">p=0.0046</text>
<line x1="1766.9" y1="169.9" x2="1807.4" y2="169.9" stroke="#000" stroke-width="3.3"/>
<text x="1885.5" y="232.6" font-size="22.8" textLength="91.9" lengthAdjust="spacingAndGlyphs" fill="#161616" stroke="#161616" stroke-width="0.35">p&lt;0.0001</text>
<line x1="1894.1" y1="236.7" x2="1961.1" y2="236.7" stroke="#000" stroke-width="3.3"/>
<text x="1884.7" y="266.4" font-size="22.8" textLength="91.9" lengthAdjust="spacingAndGlyphs" fill="#161616" stroke="#161616" stroke-width="0.35">p=0.0041</text>
<line x1="1894.1" y1="270.0" x2="1934.6" y2="270.0" stroke="#000" stroke-width="3.3"/>
<text x="2009.3" y="175.9" font-size="22.8" textLength="91.9" lengthAdjust="spacingAndGlyphs" fill="#161616" stroke="#161616" stroke-width="0.35">p&lt;0.0001</text>
<line x1="2018.2" y1="182.9" x2="2085.2" y2="182.9" stroke="#000" stroke-width="3.3"/>
<text x="2008.8" y="206.1" font-size="22.8" textLength="91.9" lengthAdjust="spacingAndGlyphs" fill="#161616" stroke="#161616" stroke-width="0.35">p&lt;0.0001</text>
<line x1="2016.9" y1="209.7" x2="2057.9" y2="209.7" stroke="#000" stroke-width="3.3"/>
<text x="1640.8" y="421.0" font-size="25.3" font-style="italic" textLength="62.5" lengthAdjust="spacingAndGlyphs" fill="#161616" stroke="#161616" stroke-width="0.35">FTH1</text>
<text x="1754.2" y="421.0" font-size="25.3" font-style="italic" textLength="88.5" lengthAdjust="spacingAndGlyphs" fill="#161616" stroke="#161616" stroke-width="0.35">HMOX1</text>
<text x="1894.4" y="421.0" font-size="25.3" font-style="italic" textLength="70.3" lengthAdjust="spacingAndGlyphs" fill="#161616" stroke="#161616" stroke-width="0.35">NQO1</text>
<text x="2021.6" y="421.0" font-size="25.3" font-style="italic" textLength="69.0" lengthAdjust="spacingAndGlyphs" fill="#161616" stroke="#161616" stroke-width="0.35">GCLC</text>
<text x="1787.6" y="454.2" font-size="25" font-weight="700" textLength="161.5" lengthAdjust="spacingAndGlyphs" fill="#161616" stroke="#161616" stroke-width="0.45">MCF10A-RAS</text>
<text x="4.0" y="521.3" font-size="29" font-weight="700" textLength="14.6" lengthAdjust="spacingAndGlyphs" fill="#161616" stroke="#161616" stroke-width="0.45">e</text>
<rect x="75.8" y="525.0" width="19.5" height="18.9" fill="#141414"/>
<text x="102.3" y="543.8" font-size="26" font-weight="700" textLength="69.1" lengthAdjust="spacingAndGlyphs" fill="#161616" stroke="#161616" stroke-width="0.45">STIFF</text>
<rect x="184.5" y="525.0" width="19.5" height="18.9" fill="#159a6b"/>
<text x="211.6" y="543.8" font-size="26" font-weight="700" textLength="66.5" lengthAdjust="spacingAndGlyphs" fill="#161616" stroke="#161616" stroke-width="0.45">SOFT</text>
<line x1="66.7" y1="546.5" x2="66.7" y2="896.8" stroke="#000" stroke-width="3.3"/>
<line x1="55.1" y1="895.1" x2="328.0" y2="895.1" stroke="#000" stroke-width="3.3"/>
<line x1="55.1" y1="548.1" x2="66.7" y2="548.1" stroke="#000" stroke-width="3.3"/>
<text x="54.2" y="558.8" font-size="32.5" font-weight="700" text-anchor="end" textLength="16.8" lengthAdjust="spacingAndGlyphs" stroke="#000" stroke-width="0.45">2</text>
<line x1="55.1" y1="721.6" x2="66.7" y2="721.6" stroke="#000" stroke-width="3.3"/>
<text x="54.2" y="732.2" font-size="32.5" font-weight="700" text-anchor="end" textLength="16.8" lengthAdjust="spacingAndGlyphs" stroke="#000" stroke-width="0.45">1</text>
<text x="54.2" y="905.8" font-size="32.5" font-weight="700" text-anchor="end" textLength="16.8" lengthAdjust="spacingAndGlyphs" stroke="#000" stroke-width="0.45">0</text>
<text x="24.3" y="712.0" font-size="25" font-weight="700" text-anchor="middle" textLength="213.0" lengthAdjust="spacingAndGlyphs" fill="#161616" stroke="#161616" stroke-width="0.45" transform="rotate(-90 24.3 712.0)">mRNA expression</text>
<rect x="79.3" y="721.3" width="24.6" height="173.9" fill="#141414"/>
<rect x="109.5" y="850.0" width="25.0" height="45.1" fill="#159a6b"/>
<rect x="169.7" y="721.3" width="24.6" height="173.9" fill="#141414"/>
<rect x="199.9" y="835.0" width="25.0" height="60.1" fill="#159a6b"/>
<rect x="260.1" y="721.3" width="24.6" height="173.9" fill="#141414"/>
<rect x="290.3" y="885.0" width="25.0" height="10.1" fill="#159a6b"/>
<circle cx="91.5" cy="673.8" r="4.3" fill="#fff" stroke="#000" stroke-width="3.45"/>
<circle cx="91.5" cy="699.3" r="4.3" fill="#fff" stroke="#000" stroke-width="3.45"/>
<circle cx="91.5" cy="715.8" r="4.3" fill="#fff" stroke="#000" stroke-width="3.45"/>
<circle cx="91.5" cy="798.0" r="4.3" fill="#fff" stroke="#000" stroke-width="3.45"/>
<circle cx="113.8" cy="840.5" r="4.3" fill="#fff" stroke="#000" stroke-width="3.45"/>
<circle cx="130.0" cy="835.5" r="4.3" fill="#fff" stroke="#000" stroke-width="3.45"/>
<circle cx="130.0" cy="858.8" r="4.3" fill="#fff" stroke="#000" stroke-width="3.45"/>
<circle cx="113.8" cy="867.5" r="4.3" fill="#fff" stroke="#000" stroke-width="3.45"/>
<circle cx="182.0" cy="684.5" r="4.3" fill="#fff" stroke="#000" stroke-width="3.45"/>
<circle cx="174.3" cy="720.0" r="4.3" fill="#fff" stroke="#000" stroke-width="3.45"/>
<circle cx="190.0" cy="721.3" r="4.3" fill="#fff" stroke="#000" stroke-width="3.45"/>
<circle cx="182.0" cy="758.3" r="4.3" fill="#fff" stroke="#000" stroke-width="3.45"/>
<circle cx="204.3" cy="825.5" r="4.3" fill="#fff" stroke="#000" stroke-width="3.45"/>
<circle cx="212.3" cy="828.0" r="4.3" fill="#fff" stroke="#000" stroke-width="3.45"/>
<circle cx="220.3" cy="833.8" r="4.3" fill="#fff" stroke="#000" stroke-width="3.45"/>
<circle cx="204.3" cy="838.3" r="4.3" fill="#fff" stroke="#000" stroke-width="3.45"/>
<circle cx="264.8" cy="656.8" r="4.3" fill="#fff" stroke="#000" stroke-width="3.45"/>
<circle cx="280.8" cy="652.0" r="4.3" fill="#fff" stroke="#000" stroke-width="3.45"/>
<circle cx="272.5" cy="779.3" r="4.3" fill="#fff" stroke="#000" stroke-width="3.45"/>
<circle cx="272.5" cy="798.0" r="4.3" fill="#fff" stroke="#000" stroke-width="3.45"/>
<circle cx="295.0" cy="887.0" r="4.3" fill="#fff" stroke="#000" stroke-width="3.45"/>
<circle cx="300.8" cy="880.0" r="4.3" fill="#fff" stroke="#000" stroke-width="3.45"/>
<circle cx="305.5" cy="886.3" r="4.3" fill="#fff" stroke="#000" stroke-width="3.45"/>
<circle cx="311.3" cy="881.8" r="4.3" fill="#fff" stroke="#000" stroke-width="3.45"/>
<text x="70.5" y="648.0" font-size="21.8" textLength="90.7" lengthAdjust="spacingAndGlyphs" fill="#161616" stroke="#161616" stroke-width="0.35">p=0.0037</text>
<line x1="78.8" y1="651.7" x2="120.0" y2="651.7" stroke="#000" stroke-width="3.3"/>
<text x="163.5" y="663.0" font-size="21.8" textLength="90.7" lengthAdjust="spacingAndGlyphs" fill="#161616" stroke="#161616" stroke-width="0.35">p=0.0004</text>
<line x1="172.5" y1="666.5" x2="213.8" y2="666.5" stroke="#000" stroke-width="3.3"/>
<text x="255.2" y="692.5" font-size="21.8" textLength="90.7" lengthAdjust="spacingAndGlyphs" fill="#161616" stroke="#161616" stroke-width="0.35">p=0.0060</text>
<line x1="263.8" y1="696.0" x2="305.0" y2="696.0" stroke="#000" stroke-width="3.3"/>
<text x="56.5" y="923.8" font-size="25.3" font-style="italic" textLength="78.8" lengthAdjust="spacingAndGlyphs" fill="#161616" stroke="#161616" stroke-width="0.35">Ankrd1</text>
<text x="168.3" y="923.8" font-size="25.3" font-style="italic" textLength="47.7" lengthAdjust="spacingAndGlyphs" fill="#161616" stroke="#161616" stroke-width="0.35">Ctgf</text>
<text x="249.5" y="923.8" font-size="25.3" font-style="italic" textLength="65.3" lengthAdjust="spacingAndGlyphs" fill="#161616" stroke="#161616" stroke-width="0.35">Cyr61</text>
<text x="169.2" y="958.3" font-size="25" font-weight="700" textLength="71.3" lengthAdjust="spacingAndGlyphs" fill="#161616" stroke="#161616" stroke-width="0.45">D2.0R</text>
<text x="490.5" y="521.3" font-size="29" font-weight="700" textLength="8.8" lengthAdjust="spacingAndGlyphs" fill="#161616" stroke="#161616" stroke-width="0.45">f</text>
<rect x="565.0" y="522.5" width="19.5" height="18.9" fill="#000"/>
<text x="590.6" y="541.3" font-size="26" font-weight="700" textLength="68.8" lengthAdjust="spacingAndGlyphs" fill="#161616" stroke="#161616" stroke-width="0.45">STIFF</text>
<rect x="671.8" y="522.5" width="19.5" height="18.9" fill="#159a6b"/>
<text x="697.3" y="541.3" font-size="26" font-weight="700" textLength="66.6" lengthAdjust="spacingAndGlyphs" fill="#161616" stroke="#161616" stroke-width="0.45">SOFT</text>
<line x1="550.4" y1="555.6" x2="550.4" y2="906.0" stroke="#000" stroke-width="3.0"/>
<line x1="538.8" y1="904.5" x2="904.5" y2="904.5" stroke="#000" stroke-width="3.0"/>
<line x1="538.8" y1="557.1" x2="550.4" y2="557.1" stroke="#000" stroke-width="3.0"/>
<text x="537.9" y="567.7" font-size="32.5" font-weight="700" text-anchor="end" textLength="16.8" lengthAdjust="spacingAndGlyphs" stroke="#000" stroke-width="0.45">4</text>
<line x1="538.8" y1="644.0" x2="550.4" y2="644.0" stroke="#000" stroke-width="3.0"/>
<text x="537.9" y="654.6" font-size="32.5" font-weight="700" text-anchor="end" textLength="16.8" lengthAdjust="spacingAndGlyphs" stroke="#000" stroke-width="0.45">3</text>
<line x1="538.8" y1="730.8" x2="550.4" y2="730.8" stroke="#000" stroke-width="3.0"/>
<text x="537.9" y="741.4" font-size="32.5" font-weight="700" text-anchor="end" textLength="16.8" lengthAdjust="spacingAndGlyphs" stroke="#000" stroke-width="0.45">2</text>
<line x1="538.8" y1="817.6" x2="550.4" y2="817.6" stroke="#000" stroke-width="3.0"/>
<text x="537.9" y="828.2" font-size="32.5" font-weight="700" text-anchor="end" textLength="16.8" lengthAdjust="spacingAndGlyphs" stroke="#000" stroke-width="0.45">1</text>
<text x="537.9" y="915.1" font-size="32.5" font-weight="700" text-anchor="end" textLength="16.8" lengthAdjust="spacingAndGlyphs" stroke="#000" stroke-width="0.45">0</text>
<text x="506.3" y="704.0" font-size="25" font-weight="700" text-anchor="middle" textLength="213.0" lengthAdjust="spacingAndGlyphs" fill="#161616" stroke="#161616" stroke-width="0.45" transform="rotate(-90 506.3 704.0)">mRNA expression</text>
<rect x="563.0" y="817.0" width="25.1" height="87.5" fill="#141414"/>
<rect x="593.3" y="755.5" width="25.2" height="149.0" fill="#159a6b"/>
<rect x="654.0" y="817.0" width="25.1" height="87.5" fill="#141414"/>
<rect x="684.2" y="671.3" width="25.2" height="233.2" fill="#159a6b"/>
<rect x="744.9" y="817.0" width="25.1" height="87.5" fill="#141414"/>
<rect x="775.2" y="721.5" width="25.2" height="183.0" fill="#159a6b"/>
<rect x="835.9" y="817.0" width="25.1" height="87.5" fill="#000"/>
<rect x="866.1" y="776.8" width="25.2" height="127.7" fill="#159a6b"/>
<circle cx="567.5" cy="802.5" r="4.3" fill="#fff" stroke="#000" stroke-width="3.45"/>
<circle cx="583.8" cy="800.0" r="4.3" fill="#fff" stroke="#000" stroke-width="3.45"/>
<circle cx="575.3" cy="822.5" r="4.3" fill="#fff" stroke="#000" stroke-width="3.45"/>
<circle cx="575.3" cy="843.8" r="4.3" fill="#fff" stroke="#000" stroke-width="3.45"/>
<circle cx="605.8" cy="739.3" r="4.3" fill="#fff" stroke="#000" stroke-width="3.45"/>
<circle cx="597.5" cy="762.0" r="4.3" fill="#fff" stroke="#000" stroke-width="3.45"/>
<circle cx="605.8" cy="760.0" r="4.3" fill="#fff" stroke="#000" stroke-width="3.45"/>
<circle cx="614.5" cy="761.3" r="4.3" fill="#fff" stroke="#000" stroke-width="3.45"/>
<circle cx="658.3" cy="802.5" r="4.3" fill="#fff" stroke="#000" stroke-width="3.45"/>
<circle cx="675.0" cy="795.5" r="4.3" fill="#fff" stroke="#000" stroke-width="3.45"/>
<circle cx="675.0" cy="833.8" r="4.3" fill="#fff" stroke="#000" stroke-width="3.45"/>
<circle cx="658.3" cy="837.5" r="4.3" fill="#fff" stroke="#000" stroke-width="3.45"/>
<circle cx="696.8" cy="643.5" r="4.3" fill="#fff" stroke="#000" stroke-width="3.45"/>
<circle cx="688.8" cy="668.8" r="4.3" fill="#fff" stroke="#000" stroke-width="3.45"/>
<circle cx="705.3" cy="675.0" r="4.3" fill="#fff" stroke="#000" stroke-width="3.45"/>
<circle cx="696.8" cy="696.8" r="4.3" fill="#fff" stroke="#000" stroke-width="3.45"/>
<circle cx="757.5" cy="796.5" r="4.3" fill="#fff" stroke="#000" stroke-width="3.45"/>
<circle cx="749.5" cy="817.5" r="4.3" fill="#fff" stroke="#000" stroke-width="3.45"/>
<circle cx="765.8" cy="823.3" r="4.3" fill="#fff" stroke="#000" stroke-width="3.45"/>
<circle cx="749.5" cy="831.3" r="4.3" fill="#fff" stroke="#000" stroke-width="3.45"/>
<circle cx="787.8" cy="705.0" r="4.3" fill="#fff" stroke="#000" stroke-width="3.45"/>
<circle cx="787.8" cy="715.0" r="4.3" fill="#fff" stroke="#000" stroke-width="3.45"/>
<circle cx="780.0" cy="720.0" r="4.3" fill="#fff" stroke="#000" stroke-width="3.45"/>
<circle cx="796.3" cy="719.5" r="4.3" fill="#fff" stroke="#000" stroke-width="3.45"/>
<circle cx="848.8" cy="782.0" r="4.3" fill="#fff" stroke="#000" stroke-width="3.45"/>
<circle cx="848.8" cy="818.8" r="4.3" fill="#fff" stroke="#000" stroke-width="3.45"/>
<circle cx="856.8" cy="832.5" r="4.3" fill="#fff" stroke="#000" stroke-width="3.45"/>
<circle cx="840.0" cy="835.5" r="4.3" fill="#fff" stroke="#000" stroke-width="3.45"/>
<circle cx="870.8" cy="756.3" r="4.3" fill="#fff" stroke="#000" stroke-width="3.45"/>
<circle cx="887.5" cy="751.8" r="4.3" fill="#fff" stroke="#000" stroke-width="3.45"/>
<circle cx="879.3" cy="787.5" r="4.3" fill="#fff" stroke="#000" stroke-width="3.45"/>
<circle cx="879.3" cy="810.8" r="4.3" fill="#fff" stroke="#000" stroke-width="3.45"/>
<text x="561.0" y="713.5" font-size="21.8" textLength="78.7" lengthAdjust="spacingAndGlyphs" fill="#161616" stroke="#161616" stroke-width="0.35">p&lt;0.001</text>
<line x1="570.0" y1="717.2" x2="610.8" y2="717.2" stroke="#000" stroke-width="3.3"/>
<text x="655.2" y="614.8" font-size="21.8" textLength="90.7" lengthAdjust="spacingAndGlyphs" fill="#161616" stroke="#161616" stroke-width="0.35">p&lt;0.0001</text>
<line x1="664.3" y1="618.2" x2="705.0" y2="618.2" stroke="#000" stroke-width="3.3"/>
<text x="744.7" y="683.5" font-size="21.8" textLength="90.7" lengthAdjust="spacingAndGlyphs" fill="#161616" stroke="#161616" stroke-width="0.35">p&lt;0.0001</text>
<line x1="753.3" y1="687.2" x2="794.3" y2="687.2" stroke="#000" stroke-width="3.3"/>
<text x="833.5" y="720.5" font-size="21.8" textLength="78.7" lengthAdjust="spacingAndGlyphs" fill="#161616" stroke="#161616" stroke-width="0.35">p=0.006</text>
<line x1="842.5" y1="724.2" x2="883.3" y2="724.2" stroke="#000" stroke-width="3.3"/>
<text x="548.3" y="934.5" font-size="25.3" font-style="italic" textLength="62.0" lengthAdjust="spacingAndGlyphs" fill="#161616" stroke="#161616" stroke-width="0.35">FTH1</text>
<text x="634.5" y="934.5" font-size="25.3" font-style="italic" textLength="88.3" lengthAdjust="spacingAndGlyphs" fill="#161616" stroke="#161616" stroke-width="0.35">HMOX1</text>
<text x="743.8" y="934.5" font-size="25.3" font-style="italic" textLength="69.7" lengthAdjust="spacingAndGlyphs" fill="#161616" stroke="#161616" stroke-width="0.35">NQO1</text>
<text x="832.0" y="934.5" font-size="25.3" font-style="italic" textLength="68.3" lengthAdjust="spacingAndGlyphs" fill="#161616" stroke="#161616" stroke-width="0.35">GCLC</text>
<text x="639.2" y="967.0" font-size="25" font-weight="700" textLength="161.8" lengthAdjust="spacingAndGlyphs" fill="#161616" stroke="#161616" stroke-width="0.45">MCF10A-RAS</text>
<text x="1039.0" y="521.3" font-size="29" font-weight="700" textLength="16.1" lengthAdjust="spacingAndGlyphs" fill="#161616" stroke="#161616" stroke-width="0.45">g</text>
<rect x="1114.0" y="522.5" width="19.5" height="18.9" fill="#141414"/>
<text x="1139.1" y="541.3" font-size="26" font-weight="700" textLength="69.0" lengthAdjust="spacingAndGlyphs" fill="#161616" stroke="#161616" stroke-width="0.45">STIFF</text>
<rect x="1221.8" y="522.5" width="19.5" height="18.9" fill="#159a6b"/>
<text x="1246.8" y="541.3" font-size="26" font-weight="700" textLength="66.3" lengthAdjust="spacingAndGlyphs" fill="#161616" stroke="#161616" stroke-width="0.45">SOFT</text>
<line x1="1101.6" y1="554.7" x2="1101.6" y2="904.8" stroke="#000" stroke-width="3.2"/>
<line x1="1090.0" y1="903.2" x2="1363.0" y2="903.2" stroke="#000" stroke-width="3.2"/>
<line x1="1090.0" y1="556.3" x2="1101.6" y2="556.3" stroke="#000" stroke-width="3.2"/>
<text x="1089.2" y="566.9" font-size="32.5" font-weight="700" text-anchor="end" textLength="16.8" lengthAdjust="spacingAndGlyphs" stroke="#000" stroke-width="0.45">2</text>
<line x1="1090.0" y1="729.8" x2="1101.6" y2="729.8" stroke="#000" stroke-width="3.2"/>
<text x="1089.2" y="740.4" font-size="32.5" font-weight="700" text-anchor="end" textLength="16.8" lengthAdjust="spacingAndGlyphs" stroke="#000" stroke-width="0.45">1</text>
<text x="1089.2" y="913.8" font-size="32.5" font-weight="700" text-anchor="end" textLength="16.8" lengthAdjust="spacingAndGlyphs" stroke="#000" stroke-width="0.45">0</text>
<text x="1055.5" y="704.5" font-size="25" font-weight="700" text-anchor="middle" textLength="213.0" lengthAdjust="spacingAndGlyphs" fill="#161616" stroke="#161616" stroke-width="0.45" transform="rotate(-90 1055.5 704.5)">mRNA expression</text>
<rect x="1114.3" y="729.3" width="24.6" height="173.9" fill="#141414"/>
<rect x="1144.3" y="870.0" width="24.8" height="33.2" fill="#159a6b"/>
<rect x="1204.6" y="729.3" width="24.6" height="173.9" fill="#141414"/>
<rect x="1234.6" y="861.3" width="24.8" height="41.9" fill="#159a6b"/>
<rect x="1295.0" y="729.3" width="24.6" height="173.9" fill="#141414"/>
<rect x="1325.0" y="860.0" width="24.8" height="43.2" fill="#159a6b"/>
<circle cx="1118.3" cy="659.5" r="4.3" fill="#fff" stroke="#000" stroke-width="3.45"/>
<circle cx="1134.5" cy="654.5" r="4.3" fill="#fff" stroke="#000" stroke-width="3.45"/>
<circle cx="1126.3" cy="691.3" r="4.3" fill="#fff" stroke="#000" stroke-width="3.45"/>
<circle cx="1126.3" cy="704.5" r="4.3" fill="#fff" stroke="#000" stroke-width="3.45"/>
<circle cx="1126.3" cy="731.8" r="4.3" fill="#fff" stroke="#000" stroke-width="3.45"/>
<circle cx="1126.3" cy="749.3" r="4.3" fill="#fff" stroke="#000" stroke-width="3.45"/>
<circle cx="1118.3" cy="768.0" r="4.3" fill="#fff" stroke="#000" stroke-width="3.45"/>
<circle cx="1134.5" cy="765.8" r="4.3" fill="#fff" stroke="#000" stroke-width="3.45"/>
<circle cx="1126.3" cy="777.5" r="4.3" fill="#fff" stroke="#000" stroke-width="3.45"/>
<circle cx="1126.3" cy="792.0" r="4.3" fill="#fff" stroke="#000" stroke-width="3.45"/>
<circle cx="1156.3" cy="823.8" r="4.3" fill="#fff" stroke="#000" stroke-width="3.45"/>
<circle cx="1152.5" cy="860.5" r="4.3" fill="#fff" stroke="#000" stroke-width="3.45"/>
<circle cx="1156.3" cy="860.5" r="4.3" fill="#fff" stroke="#000" stroke-width="3.45"/>
<circle cx="1160.0" cy="868.8" r="4.3" fill="#fff" stroke="#000" stroke-width="3.45"/>
<circle cx="1148.8" cy="873.8" r="4.3" fill="#fff" stroke="#000" stroke-width="3.45"/>
<circle cx="1152.5" cy="878.8" r="4.3" fill="#fff" stroke="#000" stroke-width="3.45"/>
<circle cx="1165.0" cy="877.0" r="4.3" fill="#fff" stroke="#000" stroke-width="3.45"/>
<circle cx="1160.0" cy="882.5" r="4.3" fill="#fff" stroke="#000" stroke-width="3.45"/>
<circle cx="1152.5" cy="889.5" r="4.3" fill="#fff" stroke="#000" stroke-width="3.45"/>
<circle cx="1216.8" cy="617.5" r="4.3" fill="#fff" stroke="#000" stroke-width="3.45"/>
<circle cx="1214.3" cy="703.3" r="4.3" fill="#fff" stroke="#000" stroke-width="3.45"/>
<circle cx="1219.5" cy="706.8" r="4.3" fill="#fff" stroke="#000" stroke-width="3.45"/>
<circle cx="1219.5" cy="730.8" r="4.3" fill="#fff" stroke="#000" stroke-width="3.45"/>
<circle cx="1208.8" cy="742.0" r="4.3" fill="#fff" stroke="#000" stroke-width="3.45"/>
<circle cx="1214.3" cy="739.5" r="4.3" fill="#fff" stroke="#000" stroke-width="3.45"/>
<circle cx="1220.0" cy="742.5" r="4.3" fill="#fff" stroke="#000" stroke-width="3.45"/>
<circle cx="1225.0" cy="742.0" r="4.3" fill="#fff" stroke="#000" stroke-width="3.45"/>
<circle cx="1219.5" cy="781.3" r="4.3" fill="#fff" stroke="#000" stroke-width="3.45"/>
<circle cx="1214.3" cy="788.3" r="4.3" fill="#fff" stroke="#000" stroke-width="3.45"/>
<circle cx="1247.0" cy="834.3" r="4.3" fill="#fff" stroke="#000" stroke-width="3.45"/>
<circle cx="1239.3" cy="848.8" r="4.3" fill="#fff" stroke="#000" stroke-width="3.45"/>
<circle cx="1249.5" cy="848.3" r="4.3" fill="#fff" stroke="#000" stroke-width="3.45"/>
<circle cx="1244.3" cy="855.8" r="4.3" fill="#fff" stroke="#000" stroke-width="3.45"/>
<circle cx="1239.3" cy="868.8" r="4.3" fill="#fff" stroke="#000" stroke-width="3.45"/>
<circle cx="1244.5" cy="873.8" r="4.3" fill="#fff" stroke="#000" stroke-width="3.45"/>
<circle cx="1250.0" cy="873.8" r="4.3" fill="#fff" stroke="#000" stroke-width="3.45"/>
<circle cx="1255.0" cy="875.0" r="4.3" fill="#fff" stroke="#000" stroke-width="3.45"/>
<circle cx="1247.0" cy="889.3" r="4.3" fill="#fff" stroke="#000" stroke-width="3.45"/>
<circle cx="1299.5" cy="683.8" r="4.3" fill="#fff" stroke="#000" stroke-width="3.45"/>
<circle cx="1307.5" cy="682.0" r="4.3" fill="#fff" stroke="#000" stroke-width="3.45"/>
<circle cx="1307.5" cy="694.5" r="4.3" fill="#fff" stroke="#000" stroke-width="3.45"/>
<circle cx="1315.5" cy="692.0" r="4.3" fill="#fff" stroke="#000" stroke-width="3.45"/>
<circle cx="1303.3" cy="737.5" r="4.3" fill="#fff" stroke="#000" stroke-width="3.45"/>
<circle cx="1311.3" cy="734.5" r="4.3" fill="#fff" stroke="#000" stroke-width="3.45"/>
<circle cx="1315.5" cy="758.8" r="4.3" fill="#fff" stroke="#000" stroke-width="3.45"/>
<circle cx="1307.5" cy="766.8" r="4.3" fill="#fff" stroke="#000" stroke-width="3.45"/>
<circle cx="1315.5" cy="769.3" r="4.3" fill="#fff" stroke="#000" stroke-width="3.45"/>
<circle cx="1299.5" cy="774.5" r="4.3" fill="#fff" stroke="#000" stroke-width="3.45"/>
<circle cx="1337.5" cy="833.0" r="4.3" fill="#fff" stroke="#000" stroke-width="3.45"/>
<circle cx="1329.5" cy="850.0" r="4.3" fill="#fff" stroke="#000" stroke-width="3.45"/>
<circle cx="1335.0" cy="848.8" r="4.3" fill="#fff" stroke="#000" stroke-width="3.45"/>
<circle cx="1340.5" cy="847.5" r="4.3" fill="#fff" stroke="#000" stroke-width="3.45"/>
<circle cx="1345.8" cy="848.8" r="4.3" fill="#fff" stroke="#000" stroke-width="3.45"/>
<circle cx="1329.5" cy="866.8" r="4.3" fill="#fff" stroke="#000" stroke-width="3.45"/>
<circle cx="1335.0" cy="872.5" r="4.3" fill="#fff" stroke="#000" stroke-width="3.45"/>
<circle cx="1345.8" cy="872.5" r="4.3" fill="#fff" stroke="#000" stroke-width="3.45"/>
<circle cx="1329.5" cy="881.3" r="4.3" fill="#fff" stroke="#000" stroke-width="3.45"/>
<circle cx="1340.0" cy="879.3" r="4.3" fill="#fff" stroke="#000" stroke-width="3.45"/>
<text x="1114.0" y="615.5" font-size="21.8" textLength="90.7" lengthAdjust="spacingAndGlyphs" fill="#161616" stroke="#161616" stroke-width="0.35">p&lt;0.0001</text>
<line x1="1122.5" y1="622.2" x2="1163.8" y2="622.2" stroke="#000" stroke-width="3.3"/>
<text x="1189.0" y="663.0" font-size="21.8" textLength="90.7" lengthAdjust="spacingAndGlyphs" fill="#161616" stroke="#161616" stroke-width="0.35">p&lt;0.0001</text>
<line x1="1211.8" y1="669.2" x2="1252.8" y2="669.2" stroke="#000" stroke-width="3.3"/>
<text x="1292.2" y="646.8" font-size="21.8" textLength="90.7" lengthAdjust="spacingAndGlyphs" fill="#161616" stroke="#161616" stroke-width="0.35">p&lt;0.0001</text>
<line x1="1300.8" y1="653.5" x2="1342.0" y2="653.5" stroke="#000" stroke-width="3.3"/>
<text x="1077.0" y="933.3" font-size="25.3" font-style="italic" textLength="102.0" lengthAdjust="spacingAndGlyphs" fill="#161616" stroke="#161616" stroke-width="0.35">ANKRD1</text>
<text x="1197.8" y="933.3" font-size="25.3" font-style="italic" textLength="68.2" lengthAdjust="spacingAndGlyphs" fill="#161616" stroke="#161616" stroke-width="0.35">CTGF</text>
<text x="1287.5" y="933.3" font-size="25.3" font-style="italic" textLength="79.0" lengthAdjust="spacingAndGlyphs" fill="#161616" stroke="#161616" stroke-width="0.35">CYR61</text>
<text x="1142.2" y="966.3" font-size="25" font-weight="700" textLength="161.8" lengthAdjust="spacingAndGlyphs" fill="#161616" stroke="#161616" stroke-width="0.45">MCF10A-RAS</text>
<text x="1526.0" y="521.3" font-size="29" font-weight="700" textLength="16.1" lengthAdjust="spacingAndGlyphs" fill="#161616" stroke="#161616" stroke-width="0.45">h</text>
<rect x="1608.6" y="520.8" width="19.5" height="18.9" fill="#141414"/>
<text x="1636.6" y="539.6" font-size="26" font-weight="700" textLength="69.1" lengthAdjust="spacingAndGlyphs" fill="#161616" stroke="#161616" stroke-width="0.45">STIFF</text>
<rect x="1722.7" y="520.8" width="19.5" height="18.9" fill="#22f0f6"/>
<text x="1749.0" y="539.6" font-size="26" font-weight="700" textLength="102.5" lengthAdjust="spacingAndGlyphs" fill="#161616" stroke="#161616" stroke-width="0.45">SOFT 6h</text>
<rect x="1869.6" y="520.8" width="19.5" height="18.9" fill="#0b9bd1"/>
<text x="1894.5" y="539.6" font-size="26" font-weight="700" textLength="116.6" lengthAdjust="spacingAndGlyphs" fill="#161616" stroke="#161616" stroke-width="0.45">SOFT 24h</text>
<line x1="1589.6" y1="554.2" x2="1589.6" y2="904.7" stroke="#000" stroke-width="3.0"/>
<line x1="1578.0" y1="903.2" x2="2107.0" y2="903.2" stroke="#000" stroke-width="3.0"/>
<line x1="1578.0" y1="555.7" x2="1589.6" y2="555.7" stroke="#000" stroke-width="3.0"/>
<text x="1575.5" y="566.3" font-size="32.5" font-weight="700" text-anchor="end" textLength="16.8" lengthAdjust="spacingAndGlyphs" stroke="#000" stroke-width="0.45">8</text>
<line x1="1578.0" y1="642.6" x2="1589.6" y2="642.6" stroke="#000" stroke-width="3.0"/>
<text x="1575.5" y="653.2" font-size="32.5" font-weight="700" text-anchor="end" textLength="16.8" lengthAdjust="spacingAndGlyphs" stroke="#000" stroke-width="0.45">6</text>
<line x1="1578.0" y1="729.4" x2="1589.6" y2="729.4" stroke="#000" stroke-width="3.0"/>
<text x="1575.5" y="740.0" font-size="32.5" font-weight="700" text-anchor="end" textLength="16.8" lengthAdjust="spacingAndGlyphs" stroke="#000" stroke-width="0.45">4</text>
<line x1="1578.0" y1="816.3" x2="1589.6" y2="816.3" stroke="#000" stroke-width="3.0"/>
<text x="1575.5" y="826.9" font-size="32.5" font-weight="700" text-anchor="end" textLength="16.8" lengthAdjust="spacingAndGlyphs" stroke="#000" stroke-width="0.45">2</text>
<text x="1575.5" y="913.8" font-size="32.5" font-weight="700" text-anchor="end" textLength="16.8" lengthAdjust="spacingAndGlyphs" stroke="#000" stroke-width="0.45">0</text>
<text x="1543.8" y="677.5" font-size="25" font-weight="700" text-anchor="middle" textLength="213.0" lengthAdjust="spacingAndGlyphs" fill="#161616" stroke="#161616" stroke-width="0.45" transform="rotate(-90 1543.8 677.5)">mRNA expression</text>
<rect x="1603.1" y="861.0" width="27.4" height="42.2" fill="#141414"/>
<rect x="1636.1" y="805.7" width="27.5" height="97.5" fill="#22f0f6"/>
<rect x="1669.3" y="627.4" width="27.4" height="275.8" fill="#0b9bd1"/>
<rect x="1735.1" y="861.0" width="27.4" height="42.2" fill="#000"/>
<rect x="1768.1" y="823.6" width="27.5" height="79.6" fill="#22f0f6"/>
<rect x="1801.3" y="782.4" width="27.4" height="120.8" fill="#0b9bd1"/>
<rect x="1867.2" y="861.0" width="27.4" height="42.2" fill="#000"/>
<rect x="1900.2" y="743.5" width="27.5" height="159.7" fill="#22f0f6"/>
<rect x="1933.4" y="739.2" width="27.4" height="164.0" fill="#0b9bd1"/>
<rect x="1999.2" y="861.0" width="27.4" height="42.2" fill="#000"/>
<rect x="2032.2" y="823.0" width="27.5" height="80.2" fill="#22f0f6"/>
<rect x="2065.4" y="822.0" width="27.4" height="81.2" fill="#0b9bd1"/>
<circle cx="1607.5" cy="861.6" r="4.3" fill="#fff" stroke="#000" stroke-width="3.45"/>
<circle cx="1613.8" cy="858.1" r="4.3" fill="#fff" stroke="#000" stroke-width="3.45"/>
<circle cx="1620.1" cy="860.4" r="4.3" fill="#fff" stroke="#000" stroke-width="3.45"/>
<circle cx="1626.8" cy="859.0" r="4.3" fill="#fff" stroke="#000" stroke-width="3.45"/>
<circle cx="1649.8" cy="768.3" r="4.3" fill="#fff" stroke="#000" stroke-width="3.45"/>
<circle cx="1649.8" cy="794.0" r="4.3" fill="#fff" stroke="#000" stroke-width="3.45"/>
<circle cx="1649.8" cy="818.4" r="4.3" fill="#fff" stroke="#000" stroke-width="3.45"/>
<circle cx="1649.8" cy="841.5" r="4.3" fill="#fff" stroke="#000" stroke-width="3.45"/>
<circle cx="1673.7" cy="581.6" r="4.3" fill="#fff" stroke="#000" stroke-width="3.45"/>
<circle cx="1692.5" cy="575.6" r="4.3" fill="#fff" stroke="#000" stroke-width="3.45"/>
<circle cx="1673.7" cy="679.3" r="4.3" fill="#fff" stroke="#000" stroke-width="3.45"/>
<circle cx="1692.5" cy="673.8" r="4.3" fill="#fff" stroke="#000" stroke-width="3.45"/>
<circle cx="1739.1" cy="863.9" r="4.3" fill="#fff" stroke="#000" stroke-width="3.45"/>
<circle cx="1745.8" cy="855.2" r="4.3" fill="#fff" stroke="#000" stroke-width="3.45"/>
<circle cx="1752.1" cy="863.9" r="4.3" fill="#fff" stroke="#000" stroke-width="3.45"/>
<circle cx="1758.4" cy="855.8" r="4.3" fill="#fff" stroke="#000" stroke-width="3.45"/>
<circle cx="1772.8" cy="818.4" r="4.3" fill="#fff" stroke="#000" stroke-width="3.45"/>
<circle cx="1791.0" cy="814.7" r="4.3" fill="#fff" stroke="#000" stroke-width="3.45"/>
<circle cx="1791.0" cy="826.5" r="4.3" fill="#fff" stroke="#000" stroke-width="3.45"/>
<circle cx="1772.8" cy="835.1" r="4.3" fill="#fff" stroke="#000" stroke-width="3.45"/>
<circle cx="1815.5" cy="760.8" r="4.3" fill="#fff" stroke="#000" stroke-width="3.45"/>
<circle cx="1815.5" cy="773.2" r="4.3" fill="#fff" stroke="#000" stroke-width="3.45"/>
<circle cx="1824.7" cy="794.8" r="4.3" fill="#fff" stroke="#000" stroke-width="3.45"/>
<circle cx="1806.0" cy="802.0" r="4.3" fill="#fff" stroke="#000" stroke-width="3.45"/>
<circle cx="1871.7" cy="863.3" r="4.3" fill="#fff" stroke="#000" stroke-width="3.45"/>
<circle cx="1878.0" cy="856.7" r="4.3" fill="#fff" stroke="#000" stroke-width="3.45"/>
<circle cx="1884.0" cy="861.0" r="4.3" fill="#fff" stroke="#000" stroke-width="3.45"/>
<circle cx="1890.7" cy="858.1" r="4.3" fill="#fff" stroke="#000" stroke-width="3.45"/>
<circle cx="1914.0" cy="730.6" r="4.3" fill="#fff" stroke="#000" stroke-width="3.45"/>
<circle cx="1914.0" cy="740.6" r="4.3" fill="#fff" stroke="#000" stroke-width="3.45"/>
<circle cx="1923.5" cy="750.7" r="4.3" fill="#fff" stroke="#000" stroke-width="3.45"/>
<circle cx="1904.8" cy="755.0" r="4.3" fill="#fff" stroke="#000" stroke-width="3.45"/>
<circle cx="1937.9" cy="721.9" r="4.3" fill="#fff" stroke="#000" stroke-width="3.45"/>
<circle cx="1947.1" cy="726.2" r="4.3" fill="#fff" stroke="#000" stroke-width="3.45"/>
<circle cx="1956.1" cy="723.9" r="4.3" fill="#fff" stroke="#000" stroke-width="3.45"/>
<circle cx="1947.1" cy="784.7" r="4.3" fill="#fff" stroke="#000" stroke-width="3.45"/>
<circle cx="2003.6" cy="861.9" r="4.3" fill="#fff" stroke="#000" stroke-width="3.45"/>
<circle cx="2009.9" cy="857.5" r="4.3" fill="#fff" stroke="#000" stroke-width="3.45"/>
<circle cx="2016.3" cy="861.0" r="4.3" fill="#fff" stroke="#000" stroke-width="3.45"/>
<circle cx="2022.3" cy="858.7" r="4.3" fill="#fff" stroke="#000" stroke-width="3.45"/>
<circle cx="2036.7" cy="817.6" r="4.3" fill="#fff" stroke="#000" stroke-width="3.45"/>
<circle cx="2046.0" cy="821.3" r="4.3" fill="#fff" stroke="#000" stroke-width="3.45"/>
<circle cx="2055.2" cy="818.4" r="4.3" fill="#fff" stroke="#000" stroke-width="3.45"/>
<circle cx="2046.0" cy="836.3" r="4.3" fill="#fff" stroke="#000" stroke-width="3.45"/>
<circle cx="2079.1" cy="804.0" r="4.3" fill="#fff" stroke="#000" stroke-width="3.45"/>
<circle cx="2069.9" cy="820.5" r="4.3" fill="#fff" stroke="#000" stroke-width="3.45"/>
<circle cx="2079.1" cy="817.6" r="4.3" fill="#fff" stroke="#000" stroke-width="3.45"/>
<circle cx="2088.6" cy="820.5" r="4.3" fill="#fff" stroke="#000" stroke-width="3.45"/>
<text x="1605.7" y="604.3" font-size="21.8" textLength="90.7" lengthAdjust="spacingAndGlyphs" fill="#161616" stroke="#161616" stroke-width="0.35">p&lt;0.0001</text>
<line x1="1612.4" y1="613.0" x2="1682.4" y2="613.0" stroke="#000" stroke-width="3.3"/>
<text x="1732.5" y="738.8" font-size="21.8" textLength="90.7" lengthAdjust="spacingAndGlyphs" fill="#161616" stroke="#161616" stroke-width="0.35">p&lt;0.0001</text>
<line x1="1741.1" y1="745.5" x2="1819.2" y2="745.5" stroke="#000" stroke-width="3.3"/>
<text x="1717.8" y="784.9" font-size="21.8" textLength="90.7" lengthAdjust="spacingAndGlyphs" fill="#161616" stroke="#161616" stroke-width="0.35">p=0.0059</text>
<line x1="1741.1" y1="787.9" x2="1782.3" y2="787.9" stroke="#000" stroke-width="3.3"/>
<text x="1867.0" y="663.9" font-size="21.8" textLength="90.7" lengthAdjust="spacingAndGlyphs" fill="#161616" stroke="#161616" stroke-width="0.35">p&lt;0.0001</text>
<line x1="1875.4" y1="666.3" x2="1950.3" y2="666.3" stroke="#000" stroke-width="3.3"/>
<text x="1873.4" y="697.4" font-size="21.8" textLength="90.7" lengthAdjust="spacingAndGlyphs" fill="#161616" stroke="#161616" stroke-width="0.35">p&lt;0.0001</text>
<line x1="1877.4" y1="700.0" x2="1918.3" y2="700.0" stroke="#000" stroke-width="3.3"/>
<text x="1999.0" y="755.5" font-size="21.8" textLength="90.7" lengthAdjust="spacingAndGlyphs" fill="#161616" stroke="#161616" stroke-width="0.35">p&lt;0.0001</text>
<line x1="2007.6" y1="758.5" x2="2087.7" y2="758.5" stroke="#000" stroke-width="3.3"/>
<text x="1999.0" y="787.2" font-size="21.8" textLength="90.7" lengthAdjust="spacingAndGlyphs" fill="#161616" stroke="#161616" stroke-width="0.35">p&lt;0.0001</text>
<line x1="2007.6" y1="789.9" x2="2051.7" y2="789.9" stroke="#000" stroke-width="3.3"/>
<text x="1598.3" y="931.6" font-size="25.3" font-style="italic" textLength="88.5" lengthAdjust="spacingAndGlyphs" fill="#161616" stroke="#161616" stroke-width="0.35">HMOX1</text>
<text x="1747.3" y="931.6" font-size="25.3" font-style="italic" textLength="61.4" lengthAdjust="spacingAndGlyphs" fill="#161616" stroke="#161616" stroke-width="0.35">FTH1</text>
<text x="1879.2" y="931.6" font-size="25.3" font-style="italic" textLength="68.9" lengthAdjust="spacingAndGlyphs" fill="#161616" stroke="#161616" stroke-width="0.35">GCLC</text>
<text x="1991.3" y="931.6" font-size="25.3" font-style="italic" textLength="104.6" lengthAdjust="spacingAndGlyphs" fill="#161616" stroke="#161616" stroke-width="0.35">SLC7A11</text>
<text x="1793.6" y="966.7" font-size="25" font-weight="700" textLength="100.1" lengthAdjust="spacingAndGlyphs" fill="#161616" stroke="#161616" stroke-width="0.45">MCF10A</text>
<text x="7.0" y="1017.5" font-size="29" font-weight="700" textLength="7.3" lengthAdjust="spacingAndGlyphs" fill="#161616" stroke="#161616" stroke-width="0.45">i</text>
<defs><filter id="bl" x="-20%" y="-20%" width="140%" height="140%"><feGaussianBlur stdDeviation="1.4"/></filter><filter id="bl2" x="-30%" y="-60%" width="160%" height="220%"><feGaussianBlur stdDeviation="1.6"/></filter><filter id="bl3" x="-30%" y="-60%" width="160%" height="220%"><feGaussianBlur stdDeviation="3"/></filter>
<clipPath id="cp00"><rect x="25.4" y="1108.0" width="128.0" height="128.0"/></clipPath>
<clipPath id="cp01"><rect x="159.9" y="1108.0" width="128.0" height="128.0"/></clipPath>
<clipPath id="cp02"><rect x="294.0" y="1108.0" width="128.0" height="128.0"/></clipPath>
<clipPath id="cp10"><rect x="25.4" y="1240.5" width="128.0" height="128.0"/></clipPath>
<clipPath id="cp11"><rect x="159.9" y="1240.5" width="128.0" height="128.0"/></clipPath>
<clipPath id="cp12"><rect x="294.0" y="1240.5" width="128.0" height="128.0"/></clipPath>
</defs>
<defs><radialGradient id="gG1"><stop offset="0" stop-color="#135c17"/><stop offset="0.45" stop-color="#135c17"/><stop offset="0.85" stop-color="#1b7f21"/><stop offset="1" stop-color="#1b7f21"/></radialGradient><radialGradient id="gG2"><stop offset="0" stop-color="#1e8a25"/><stop offset="0.45" stop-color="#1e8a25"/><stop offset="0.85" stop-color="#28aa2e"/><stop offset="1" stop-color="#28aa2e"/></radialGradient><radialGradient id="gG3"><stop offset="0" stop-color="#1f8f26"/><stop offset="0.45" stop-color="#1f8f26"/><stop offset="0.85" stop-color="#29ae2f"/><stop offset="1" stop-color="#29ae2f"/></radialGradient><radialGradient id="gC1"><stop offset="0" stop-color="#18a39b"/><stop offset="0.45" stop-color="#18a39b"/><stop offset="0.85" stop-color="#25cbc0"/><stop offset="1" stop-color="#25cbc0"/></radialGradient><radialGradient id="gC2"><stop offset="0" stop-color="#26cfc5"/><stop offset="0.45" stop-color="#26cfc5"/><stop offset="0.85" stop-color="#31ebe0"/><stop offset="1" stop-color="#31ebe0"/></radialGradient><radialGradient id="gC3"><stop offset="0" stop-color="#1db3ab"/><stop offset="0.45" stop-color="#1db3ab"/><stop offset="0.85" stop-color="#29d8cd"/><stop offset="1" stop-color="#29d8cd"/></radialGradient></defs>
<rect x="25.4" y="1108.0" width="128.0" height="128.0" fill="#000"/>
<g clip-path="url(#cp00)"><g filter="url(#bl)">
<ellipse cx="46.9" cy="1147.2" rx="12.4" ry="9.6" fill="url(#gG1)" opacity="1.0" transform="rotate(10 46.9 1147.2)"/>
<ellipse cx="83.8" cy="1143.8" rx="11.0" ry="15.9" fill="url(#gG1)" opacity="1.0" transform="rotate(-10 83.8 1143.8)"/>
<ellipse cx="96.7" cy="1171.7" rx="11.0" ry="13.0" fill="url(#gG1)" opacity="1.0" transform="rotate(-20 96.7 1171.7)"/>
<ellipse cx="54.5" cy="1201.6" rx="13.0" ry="11.0" fill="url(#gG1)" opacity="1.0" transform="rotate(0 54.5 1201.6)"/>
<ellipse cx="128.6" cy="1202.6" rx="14.0" ry="10.0" fill="url(#gG1)" opacity="1.0" transform="rotate(-30 128.6 1202.6)"/>
<ellipse cx="27.0" cy="1232.5" rx="7.0" ry="7.0" fill="url(#gG1)" opacity="1.0" transform="rotate(0 27.0 1232.5)"/>
</g></g>
<rect x="159.9" y="1108.0" width="128.0" height="128.0" fill="#000"/>
<g clip-path="url(#cp01)"><g filter="url(#bl)">
<ellipse cx="261.6" cy="1107.4" rx="14.0" ry="8.4" fill="url(#gG2)" opacity="1.0" transform="rotate(0 261.6 1107.4)"/>
<ellipse cx="248.8" cy="1155.8" rx="9.6" ry="14.4" fill="url(#gG2)" opacity="1.0" transform="rotate(10 248.8 1155.8)"/>
<ellipse cx="190.8" cy="1186.7" rx="12.8" ry="15.5" fill="url(#gG2)" opacity="1.0" transform="rotate(25 190.8 1186.7)"/>
<ellipse cx="252.8" cy="1191.3" rx="14.0" ry="12.0" fill="url(#gG2)" opacity="1.0" transform="rotate(0 252.8 1191.3)"/>
</g></g>
<rect x="294.0" y="1108.0" width="128.0" height="128.0" fill="#000"/>
<g clip-path="url(#cp02)"><g filter="url(#bl)">
<ellipse cx="392.7" cy="1127.9" rx="18.9" ry="11.0" fill="url(#gG3)" opacity="1.0" transform="rotate(40 392.7 1127.9)"/>
<ellipse cx="323.0" cy="1153.4" rx="14.9" ry="11.0" fill="url(#gG3)" opacity="1.0" transform="rotate(20 323.0 1153.4)"/>
<ellipse cx="383.3" cy="1165.8" rx="12.0" ry="13.6" fill="url(#gG3)" opacity="1.0" transform="rotate(0 383.3 1165.8)"/>
<ellipse cx="335.3" cy="1178.3" rx="14.0" ry="12.0" fill="url(#gG3)" opacity="1.0" transform="rotate(0 335.3 1178.3)"/>
<ellipse cx="369.8" cy="1207.0" rx="10.4" ry="15.5" fill="url(#gG3)" opacity="1.0" transform="rotate(5 369.8 1207.0)"/>
<ellipse cx="399.7" cy="1106.0" rx="8.0" ry="5.0" fill="url(#gG3)" opacity="1.0" transform="rotate(0 399.7 1106.0)"/>
</g></g>
<rect x="25.4" y="1240.5" width="128.0" height="128.0" fill="#000"/>
<g clip-path="url(#cp10)"><g filter="url(#bl)">
<ellipse cx="45.9" cy="1281.4" rx="13.6" ry="10.0" fill="url(#gC1)" opacity="1.0" transform="rotate(10 45.9 1281.4)"/>
<ellipse cx="83.2" cy="1278.4" rx="11.6" ry="15.9" fill="url(#gC1)" opacity="1.0" transform="rotate(-10 83.2 1278.4)"/>
<ellipse cx="95.7" cy="1305.9" rx="11.4" ry="13.4" fill="url(#gC1)" opacity="1.0" transform="rotate(-20 95.7 1305.9)"/>
<ellipse cx="52.9" cy="1336.2" rx="13.0" ry="11.6" fill="url(#gC1)" opacity="1.0" transform="rotate(0 52.9 1336.2)"/>
<ellipse cx="127.6" cy="1337.8" rx="14.4" ry="11.0" fill="url(#gC1)" opacity="1.0" transform="rotate(-30 127.6 1337.8)"/>
<ellipse cx="26.0" cy="1365.1" rx="7.6" ry="7.6" fill="url(#gC1)" opacity="1.0" transform="rotate(0 26.0 1365.1)"/>
<ellipse cx="24.0" cy="1244.5" rx="4.0" ry="6.0" fill="url(#gC1)" opacity="1.0" transform="rotate(0 24.0 1244.5)"/>
</g></g>
<rect x="159.9" y="1240.5" width="128.0" height="128.0" fill="#000"/>
<g clip-path="url(#cp11)"><g filter="url(#bl)">
<ellipse cx="246.8" cy="1282.4" rx="10.4" ry="16.3" fill="url(#gC2)" opacity="1.0" transform="rotate(10 246.8 1282.4)"/>
<ellipse cx="180.4" cy="1316.8" rx="14.7" ry="17.9" fill="url(#gC2)" opacity="1.0" transform="rotate(30 180.4 1316.8)"/>
<ellipse cx="251.8" cy="1322.2" rx="15.5" ry="13.6" fill="url(#gC2)" opacity="1.0" transform="rotate(0 251.8 1322.2)"/>
</g></g>
<rect x="294.0" y="1240.5" width="128.0" height="128.0" fill="#000"/>
<g clip-path="url(#cp12)"><g filter="url(#bl)">
<ellipse cx="393.1" cy="1262.0" rx="18.9" ry="11.0" fill="url(#gC3)" opacity="1.0" transform="rotate(40 393.1 1262.0)"/>
<ellipse cx="324.9" cy="1286.9" rx="14.9" ry="11.0" fill="url(#gC3)" opacity="1.0" transform="rotate(20 324.9 1286.9)"/>
<ellipse cx="384.3" cy="1298.3" rx="12.0" ry="13.6" fill="url(#gC3)" opacity="1.0" transform="rotate(0 384.3 1298.3)"/>
<ellipse cx="336.3" cy="1310.3" rx="14.0" ry="12.0" fill="url(#gC3)" opacity="1.0" transform="rotate(0 336.3 1310.3)"/>
<ellipse cx="370.4" cy="1339.2" rx="10.4" ry="15.5" fill="url(#gC3)" opacity="1.0" transform="rotate(5 370.4 1339.2)"/>
<ellipse cx="399.7" cy="1240.1" rx="8.0" ry="4.4" fill="url(#gC3)" opacity="1.0" transform="rotate(0 399.7 1240.1)"/>
</g></g>
<text x="31.5" y="1130.8" font-size="24" font-weight="700" textLength="76.5" lengthAdjust="spacingAndGlyphs" fill="#fff" stroke="#fff" stroke-width="0.45">DMSO</text>
<text x="166.8" y="1130.8" font-size="24" font-weight="700" textLength="37.5" lengthAdjust="spacingAndGlyphs" fill="#fff" stroke="#fff" stroke-width="0.45">YM</text>
<text x="300.0" y="1130.8" font-size="24" font-weight="700" textLength="67.0" lengthAdjust="spacingAndGlyphs" fill="#fff" stroke="#fff" stroke-width="0.45">KI969</text>
<text x="31.5" y="1231.8" font-size="24" font-weight="700" textLength="108.0" lengthAdjust="spacingAndGlyphs" fill="#33ee33" stroke="#33ee33" stroke-width="0.45">NRF2p40</text>
<text x="31.5" y="1363.5" font-size="24" font-weight="700" textLength="60.0" lengthAdjust="spacingAndGlyphs" fill="#2ae4ec" stroke="#2ae4ec" stroke-width="0.45">DAPI</text>
<rect x="114.5" y="1357.3" width="30.0" height="3.6" fill="#fff"/>
<rect x="520.0" y="1017.5" width="19.2" height="19.2" fill="#000"/>
<text x="545.0" y="1034.2" font-size="24.5" font-weight="700" textLength="73.6" lengthAdjust="spacingAndGlyphs" stroke="#000" stroke-width="0.45">DMSO</text>
<rect x="520.0" y="1042.9" width="19.2" height="18.8" fill="#f8830f"/>
<text x="545.0" y="1060.4" font-size="24.5" font-weight="700" textLength="35.8" lengthAdjust="spacingAndGlyphs" stroke="#000" stroke-width="0.45">YM</text>
<rect x="520.0" y="1066.3" width="19.2" height="18.7" fill="#82158a"/>
<text x="545.0" y="1085.4" font-size="24.5" font-weight="700" textLength="65.2" lengthAdjust="spacingAndGlyphs" stroke="#000" stroke-width="0.45">KI696</text>
<line x1="504.5" y1="1080.9" x2="504.5" y2="1428.9" stroke="#000" stroke-width="3.0"/>
<line x1="492.9" y1="1427.4" x2="729.0" y2="1427.4" stroke="#000" stroke-width="3.0"/>
<line x1="492.9" y1="1082.4" x2="504.5" y2="1082.4" stroke="#000" stroke-width="3.0"/>
<text x="489.7" y="1093.0" font-size="32.5" font-weight="700" text-anchor="end" textLength="16.8" lengthAdjust="spacingAndGlyphs" stroke="#000" stroke-width="0.45">3</text>
<line x1="492.9" y1="1197.4" x2="504.5" y2="1197.4" stroke="#000" stroke-width="3.0"/>
<text x="489.7" y="1208.0" font-size="32.5" font-weight="700" text-anchor="end" textLength="16.8" lengthAdjust="spacingAndGlyphs" stroke="#000" stroke-width="0.45">2</text>
<line x1="492.9" y1="1312.4" x2="504.5" y2="1312.4" stroke="#000" stroke-width="3.0"/>
<text x="489.7" y="1323.0" font-size="32.5" font-weight="700" text-anchor="end" textLength="16.8" lengthAdjust="spacingAndGlyphs" stroke="#000" stroke-width="0.45">1</text>
<text x="489.7" y="1438.0" font-size="32.5" font-weight="700" text-anchor="end" textLength="16.8" lengthAdjust="spacingAndGlyphs" stroke="#000" stroke-width="0.45">0</text>
<text x="469.9" y="1256.8" font-size="25" font-weight="700" text-anchor="middle" textLength="284.0" lengthAdjust="spacingAndGlyphs" stroke="#000" stroke-width="0.45" transform="rotate(-90 469.9 1256.8)">pNRF2 nuclear intensity</text>
<circle cx="550.5" cy="1286.8" r="5.3" fill="#000"/>
<circle cx="542.7" cy="1291.2" r="5.3" fill="#000"/>
<circle cx="548.8" cy="1291.0" r="5.3" fill="#000"/>
<circle cx="554.9" cy="1291.7" r="5.3" fill="#000"/>
<circle cx="535.7" cy="1295.2" r="5.3" fill="#000"/>
<circle cx="544.4" cy="1295.0" r="5.3" fill="#000"/>
<circle cx="553.2" cy="1297.4" r="5.3" fill="#000"/>
<circle cx="561.9" cy="1296.2" r="5.3" fill="#000"/>
<circle cx="531.5" cy="1300.1" r="5.3" fill="#000"/>
<circle cx="538.4" cy="1301.4" r="5.3" fill="#000"/>
<circle cx="545.3" cy="1302.3" r="5.3" fill="#000"/>
<circle cx="552.3" cy="1300.8" r="5.3" fill="#000"/>
<circle cx="559.2" cy="1302.9" r="5.3" fill="#000"/>
<circle cx="566.1" cy="1302.8" r="5.3" fill="#000"/>
<circle cx="534.8" cy="1305.4" r="5.3" fill="#000"/>
<circle cx="541.8" cy="1306.9" r="5.3" fill="#000"/>
<circle cx="548.8" cy="1308.1" r="5.3" fill="#000"/>
<circle cx="555.8" cy="1306.4" r="5.3" fill="#000"/>
<circle cx="562.8" cy="1305.9" r="5.3" fill="#000"/>
<circle cx="533.7" cy="1310.6" r="5.3" fill="#000"/>
<circle cx="541.3" cy="1311.2" r="5.3" fill="#000"/>
<circle cx="548.8" cy="1311.8" r="5.3" fill="#000"/>
<circle cx="556.3" cy="1312.0" r="5.3" fill="#000"/>
<circle cx="563.9" cy="1311.2" r="5.3" fill="#000"/>
<circle cx="536.8" cy="1316.4" r="5.3" fill="#000"/>
<circle cx="544.8" cy="1317.1" r="5.3" fill="#000"/>
<circle cx="552.8" cy="1316.6" r="5.3" fill="#000"/>
<circle cx="560.8" cy="1315.8" r="5.3" fill="#000"/>
<circle cx="535.2" cy="1322.6" r="5.3" fill="#000"/>
<circle cx="542.0" cy="1322.8" r="5.3" fill="#000"/>
<circle cx="548.8" cy="1321.5" r="5.3" fill="#000"/>
<circle cx="555.6" cy="1323.9" r="5.3" fill="#000"/>
<circle cx="562.4" cy="1323.5" r="5.3" fill="#000"/>
<circle cx="540.1" cy="1327.1" r="5.3" fill="#000"/>
<circle cx="548.8" cy="1328.3" r="5.3" fill="#000"/>
<circle cx="557.5" cy="1328.2" r="5.3" fill="#000"/>
<circle cx="537.3" cy="1332.6" r="5.3" fill="#000"/>
<circle cx="545.0" cy="1333.8" r="5.3" fill="#000"/>
<circle cx="552.6" cy="1333.3" r="5.3" fill="#000"/>
<circle cx="560.3" cy="1332.2" r="5.3" fill="#000"/>
<circle cx="540.4" cy="1339.1" r="5.3" fill="#000"/>
<circle cx="548.8" cy="1339.0" r="5.3" fill="#000"/>
<circle cx="557.2" cy="1338.0" r="5.3" fill="#000"/>
<circle cx="548.8" cy="1269.2" r="5.3" fill="#000"/>
<circle cx="548.8" cy="1351.7" r="5.3" fill="#000"/>
<circle cx="613.4" cy="1171.3" r="5.3" fill="#f8830f"/>
<circle cx="620.0" cy="1168.7" r="5.3" fill="#f8830f"/>
<circle cx="618.4" cy="1175.9" r="5.3" fill="#f8830f"/>
<circle cx="614.4" cy="1179.8" r="5.3" fill="#f8830f"/>
<circle cx="619.0" cy="1180.7" r="5.3" fill="#f8830f"/>
<circle cx="614.5" cy="1185.8" r="5.3" fill="#f8830f"/>
<circle cx="618.9" cy="1184.6" r="5.3" fill="#f8830f"/>
<circle cx="616.2" cy="1191.5" r="5.3" fill="#f8830f"/>
<circle cx="611.7" cy="1197.3" r="5.3" fill="#f8830f"/>
<circle cx="621.7" cy="1196.1" r="5.3" fill="#f8830f"/>
<circle cx="613.6" cy="1200.5" r="5.3" fill="#f8830f"/>
<circle cx="619.8" cy="1199.8" r="5.3" fill="#f8830f"/>
<circle cx="616.5" cy="1205.9" r="5.3" fill="#f8830f"/>
<circle cx="613.1" cy="1212.8" r="5.3" fill="#f8830f"/>
<circle cx="620.3" cy="1211.7" r="5.3" fill="#f8830f"/>
<circle cx="612.1" cy="1216.0" r="5.3" fill="#f8830f"/>
<circle cx="621.3" cy="1215.4" r="5.3" fill="#f8830f"/>
<circle cx="613.1" cy="1220.9" r="5.3" fill="#f8830f"/>
<circle cx="620.3" cy="1222.0" r="5.3" fill="#f8830f"/>
<circle cx="609.6" cy="1227.7" r="5.3" fill="#f8830f"/>
<circle cx="616.7" cy="1226.2" r="5.3" fill="#f8830f"/>
<circle cx="623.8" cy="1228.4" r="5.3" fill="#f8830f"/>
<circle cx="610.4" cy="1233.1" r="5.3" fill="#f8830f"/>
<circle cx="616.7" cy="1233.6" r="5.3" fill="#f8830f"/>
<circle cx="623.0" cy="1233.2" r="5.3" fill="#f8830f"/>
<circle cx="610.3" cy="1237.2" r="5.3" fill="#f8830f"/>
<circle cx="616.7" cy="1239.0" r="5.3" fill="#f8830f"/>
<circle cx="623.1" cy="1239.0" r="5.3" fill="#f8830f"/>
<circle cx="608.7" cy="1243.6" r="5.3" fill="#f8830f"/>
<circle cx="616.7" cy="1243.4" r="5.3" fill="#f8830f"/>
<circle cx="624.7" cy="1242.7" r="5.3" fill="#f8830f"/>
<circle cx="601.4" cy="1248.0" r="5.3" fill="#f8830f"/>
<circle cx="609.0" cy="1249.3" r="5.3" fill="#f8830f"/>
<circle cx="616.7" cy="1248.0" r="5.3" fill="#f8830f"/>
<circle cx="624.4" cy="1249.0" r="5.3" fill="#f8830f"/>
<circle cx="632.0" cy="1247.6" r="5.3" fill="#f8830f"/>
<circle cx="599.1" cy="1254.4" r="5.3" fill="#f8830f"/>
<circle cx="606.2" cy="1253.1" r="5.3" fill="#f8830f"/>
<circle cx="613.2" cy="1253.4" r="5.3" fill="#f8830f"/>
<circle cx="620.2" cy="1254.5" r="5.3" fill="#f8830f"/>
<circle cx="627.2" cy="1253.9" r="5.3" fill="#f8830f"/>
<circle cx="634.3" cy="1253.2" r="5.3" fill="#f8830f"/>
<circle cx="601.9" cy="1257.9" r="5.3" fill="#f8830f"/>
<circle cx="609.3" cy="1259.0" r="5.3" fill="#f8830f"/>
<circle cx="616.7" cy="1257.4" r="5.3" fill="#f8830f"/>
<circle cx="624.1" cy="1259.6" r="5.3" fill="#f8830f"/>
<circle cx="631.5" cy="1257.7" r="5.3" fill="#f8830f"/>
<circle cx="602.7" cy="1263.0" r="5.3" fill="#f8830f"/>
<circle cx="609.7" cy="1265.0" r="5.3" fill="#f8830f"/>
<circle cx="616.7" cy="1264.2" r="5.3" fill="#f8830f"/>
<circle cx="623.7" cy="1263.6" r="5.3" fill="#f8830f"/>
<circle cx="630.7" cy="1263.7" r="5.3" fill="#f8830f"/>
<circle cx="607.2" cy="1269.1" r="5.3" fill="#f8830f"/>
<circle cx="613.5" cy="1268.2" r="5.3" fill="#f8830f"/>
<circle cx="619.9" cy="1267.9" r="5.3" fill="#f8830f"/>
<circle cx="626.2" cy="1268.8" r="5.3" fill="#f8830f"/>
<circle cx="606.2" cy="1274.4" r="5.3" fill="#f8830f"/>
<circle cx="613.2" cy="1272.7" r="5.3" fill="#f8830f"/>
<circle cx="620.2" cy="1275.0" r="5.3" fill="#f8830f"/>
<circle cx="627.2" cy="1274.7" r="5.3" fill="#f8830f"/>
<circle cx="605.3" cy="1278.3" r="5.3" fill="#f8830f"/>
<circle cx="612.9" cy="1279.9" r="5.3" fill="#f8830f"/>
<circle cx="620.5" cy="1277.9" r="5.3" fill="#f8830f"/>
<circle cx="628.1" cy="1279.7" r="5.3" fill="#f8830f"/>
<circle cx="603.2" cy="1283.6" r="5.3" fill="#f8830f"/>
<circle cx="609.9" cy="1285.5" r="5.3" fill="#f8830f"/>
<circle cx="616.7" cy="1283.2" r="5.3" fill="#f8830f"/>
<circle cx="623.5" cy="1284.5" r="5.3" fill="#f8830f"/>
<circle cx="630.2" cy="1285.5" r="5.3" fill="#f8830f"/>
<circle cx="603.6" cy="1288.7" r="5.3" fill="#f8830f"/>
<circle cx="612.3" cy="1290.7" r="5.3" fill="#f8830f"/>
<circle cx="621.1" cy="1289.4" r="5.3" fill="#f8830f"/>
<circle cx="629.8" cy="1290.3" r="5.3" fill="#f8830f"/>
<circle cx="604.9" cy="1294.4" r="5.3" fill="#f8830f"/>
<circle cx="612.8" cy="1293.8" r="5.3" fill="#f8830f"/>
<circle cx="620.6" cy="1295.3" r="5.3" fill="#f8830f"/>
<circle cx="628.5" cy="1293.5" r="5.3" fill="#f8830f"/>
<circle cx="602.7" cy="1298.6" r="5.3" fill="#f8830f"/>
<circle cx="609.7" cy="1300.7" r="5.3" fill="#f8830f"/>
<circle cx="616.7" cy="1298.6" r="5.3" fill="#f8830f"/>
<circle cx="623.7" cy="1299.3" r="5.3" fill="#f8830f"/>
<circle cx="630.7" cy="1300.9" r="5.3" fill="#f8830f"/>
<circle cx="610.4" cy="1304.3" r="5.3" fill="#f8830f"/>
<circle cx="616.7" cy="1305.8" r="5.3" fill="#f8830f"/>
<circle cx="623.0" cy="1304.9" r="5.3" fill="#f8830f"/>
<circle cx="611.7" cy="1311.9" r="5.3" fill="#f8830f"/>
<circle cx="621.7" cy="1309.4" r="5.3" fill="#f8830f"/>
<circle cx="613.8" cy="1315.1" r="5.3" fill="#f8830f"/>
<circle cx="619.6" cy="1315.9" r="5.3" fill="#f8830f"/>
<circle cx="612.6" cy="1319.6" r="5.3" fill="#f8830f"/>
<circle cx="620.8" cy="1320.3" r="5.3" fill="#f8830f"/>
<circle cx="616.4" cy="1326.8" r="5.3" fill="#f8830f"/>
<circle cx="683.5" cy="1233.3" r="5.3" fill="#800080"/>
<circle cx="679.2" cy="1239.3" r="5.3" fill="#800080"/>
<circle cx="687.4" cy="1237.6" r="5.3" fill="#800080"/>
<circle cx="680.5" cy="1245.1" r="5.3" fill="#800080"/>
<circle cx="686.1" cy="1243.4" r="5.3" fill="#800080"/>
<circle cx="677.3" cy="1250.8" r="5.3" fill="#800080"/>
<circle cx="683.3" cy="1249.2" r="5.3" fill="#800080"/>
<circle cx="689.3" cy="1250.3" r="5.3" fill="#800080"/>
<circle cx="673.5" cy="1254.9" r="5.3" fill="#800080"/>
<circle cx="680.0" cy="1253.5" r="5.3" fill="#800080"/>
<circle cx="686.6" cy="1254.9" r="5.3" fill="#800080"/>
<circle cx="693.1" cy="1255.6" r="5.3" fill="#800080"/>
<circle cx="671.0" cy="1260.4" r="5.3" fill="#800080"/>
<circle cx="679.2" cy="1260.2" r="5.3" fill="#800080"/>
<circle cx="687.4" cy="1258.4" r="5.3" fill="#800080"/>
<circle cx="695.6" cy="1260.5" r="5.3" fill="#800080"/>
<circle cx="668.6" cy="1264.3" r="5.3" fill="#800080"/>
<circle cx="675.9" cy="1263.5" r="5.3" fill="#800080"/>
<circle cx="683.3" cy="1266.0" r="5.3" fill="#800080"/>
<circle cx="690.7" cy="1264.8" r="5.3" fill="#800080"/>
<circle cx="698.0" cy="1265.6" r="5.3" fill="#800080"/>
<circle cx="666.3" cy="1270.7" r="5.3" fill="#800080"/>
<circle cx="673.1" cy="1271.4" r="5.3" fill="#800080"/>
<circle cx="679.9" cy="1269.8" r="5.3" fill="#800080"/>
<circle cx="686.7" cy="1271.0" r="5.3" fill="#800080"/>
<circle cx="693.5" cy="1269.9" r="5.3" fill="#800080"/>
<circle cx="700.3" cy="1271.4" r="5.3" fill="#800080"/>
<circle cx="667.1" cy="1274.1" r="5.3" fill="#800080"/>
<circle cx="675.2" cy="1274.2" r="5.3" fill="#800080"/>
<circle cx="683.3" cy="1274.5" r="5.3" fill="#800080"/>
<circle cx="691.4" cy="1276.7" r="5.3" fill="#800080"/>
<circle cx="699.5" cy="1275.1" r="5.3" fill="#800080"/>
<circle cx="669.2" cy="1279.9" r="5.3" fill="#800080"/>
<circle cx="676.2" cy="1280.5" r="5.3" fill="#800080"/>
<circle cx="683.3" cy="1280.2" r="5.3" fill="#800080"/>
<circle cx="690.4" cy="1280.1" r="5.3" fill="#800080"/>
<circle cx="697.4" cy="1280.8" r="5.3" fill="#800080"/>
<circle cx="669.2" cy="1286.9" r="5.3" fill="#800080"/>
<circle cx="676.3" cy="1286.2" r="5.3" fill="#800080"/>
<circle cx="683.3" cy="1287.0" r="5.3" fill="#800080"/>
<circle cx="690.3" cy="1286.8" r="5.3" fill="#800080"/>
<circle cx="697.4" cy="1287.2" r="5.3" fill="#800080"/>
<circle cx="668.6" cy="1289.9" r="5.3" fill="#800080"/>
<circle cx="676.0" cy="1292.0" r="5.3" fill="#800080"/>
<circle cx="683.3" cy="1292.3" r="5.3" fill="#800080"/>
<circle cx="690.6" cy="1292.1" r="5.3" fill="#800080"/>
<circle cx="698.0" cy="1291.1" r="5.3" fill="#800080"/>
<circle cx="668.4" cy="1295.2" r="5.3" fill="#800080"/>
<circle cx="675.9" cy="1297.1" r="5.3" fill="#800080"/>
<circle cx="683.3" cy="1296.3" r="5.3" fill="#800080"/>
<circle cx="690.7" cy="1295.5" r="5.3" fill="#800080"/>
<circle cx="698.2" cy="1294.8" r="5.3" fill="#800080"/>
<circle cx="676.8" cy="1302.8" r="5.3" fill="#800080"/>
<circle cx="683.3" cy="1300.1" r="5.3" fill="#800080"/>
<circle cx="689.8" cy="1302.2" r="5.3" fill="#800080"/>
<circle cx="680.3" cy="1305.5" r="5.3" fill="#800080"/>
<circle cx="686.3" cy="1305.9" r="5.3" fill="#800080"/>
<circle cx="679.1" cy="1312.8" r="5.3" fill="#800080"/>
<circle cx="687.5" cy="1310.3" r="5.3" fill="#800080"/>
<circle cx="680.5" cy="1315.5" r="5.3" fill="#800080"/>
<circle cx="686.1" cy="1317.6" r="5.3" fill="#800080"/>
<circle cx="684.2" cy="1193.8" r="5.3" fill="#800080"/>
<circle cx="520.8" cy="1310.3" r="2" fill="#0a0ac8"/>
<circle cx="529.8" cy="1310.3" r="2" fill="#0a0ac8"/>
<circle cx="538.9" cy="1310.3" r="2" fill="#0a0ac8"/>
<circle cx="547.9" cy="1310.3" r="2" fill="#0a0ac8"/>
<circle cx="556.9" cy="1310.3" r="2" fill="#0a0ac8"/>
<circle cx="565.9" cy="1310.3" r="2" fill="#0a0ac8"/>
<circle cx="575.0" cy="1310.3" r="2" fill="#0a0ac8"/>
<circle cx="588.3" cy="1265" r="2" fill="#0a0ac8"/>
<circle cx="597.3" cy="1265" r="2" fill="#0a0ac8"/>
<circle cx="606.4" cy="1265" r="2" fill="#0a0ac8"/>
<circle cx="615.4" cy="1265" r="2" fill="#0a0ac8"/>
<circle cx="624.4" cy="1265" r="2" fill="#0a0ac8"/>
<circle cx="633.4" cy="1265" r="2" fill="#0a0ac8"/>
<circle cx="642.5" cy="1265" r="2" fill="#0a0ac8"/>
<circle cx="655.8" cy="1272.8" r="2" fill="#0a0ac8"/>
<circle cx="664.8" cy="1272.8" r="2" fill="#0a0ac8"/>
<circle cx="673.9" cy="1272.8" r="2" fill="#0a0ac8"/>
<circle cx="682.9" cy="1272.8" r="2" fill="#0a0ac8"/>
<circle cx="691.9" cy="1272.8" r="2" fill="#0a0ac8"/>
<circle cx="700.9" cy="1272.8" r="2" fill="#0a0ac8"/>
<circle cx="710.0" cy="1272.8" r="2" fill="#0a0ac8"/>
<text x="568.9" y="1142.5" font-size="22.0" textLength="88.6" lengthAdjust="spacingAndGlyphs" fill="#161616" stroke="#161616" stroke-width="0.35">p&lt;0.0001</text>
<line x1="538.3" y1="1149.4" x2="684.7" y2="1149.4" stroke="#000" stroke-width="3.3"/>
<text x="529.7" y="1191.3" font-size="22.0" textLength="88.6" lengthAdjust="spacingAndGlyphs" fill="#161616" stroke="#161616" stroke-width="0.35">p&lt;0.0001</text>
<line x1="543.3" y1="1200.5" x2="618.0" y2="1200.5" stroke="#000" stroke-width="3.3"/>
<defs><pattern id="ha" width="6.8" height="6.8" patternUnits="userSpaceOnUse" patternTransform="rotate(-45)"><rect width="6.8" height="6.8" fill="#fff"/><rect width="6.8" height="4.7" fill="#000"/></pattern><pattern id="hb" width="6.8" height="6.8" patternUnits="userSpaceOnUse" patternTransform="rotate(45)"><rect width="6.8" height="6.8" fill="#fff"/><rect width="6.8" height="4.7" fill="#000"/></pattern></defs>
<text x="816.0" y="1018.0" font-size="29" font-weight="700" textLength="7.3" lengthAdjust="spacingAndGlyphs" fill="#161616" stroke="#161616" stroke-width="0.45">j</text>
<rect x="907.9" y="1015.8" width="20.0" height="19.2" fill="#000"/>
<text x="934.0" y="1036.2" font-size="24.5" font-weight="700" textLength="57.7" lengthAdjust="spacingAndGlyphs" stroke="#000" stroke-width="0.45">siCO</text>
<rect x="907.9" y="1042.1" width="20.0" height="20.8" fill="url(#ha)"/>
<text x="934.0" y="1060.8" font-size="24.5" font-weight="700" textLength="99.8" lengthAdjust="spacingAndGlyphs" stroke="#000" stroke-width="0.45">siNRF2a</text>
<rect x="907.9" y="1066.3" width="20.0" height="20.8" fill="url(#hb)"/>
<text x="934.0" y="1085.4" font-size="24.5" font-weight="700" textLength="101.4" lengthAdjust="spacingAndGlyphs" stroke="#000" stroke-width="0.45">siNRF2b</text>
<line x1="894.4" y1="1078.4" x2="894.4" y2="1427.8" stroke="#000" stroke-width="3.0"/>
<line x1="882.8" y1="1426.3" x2="1021.0" y2="1426.3" stroke="#000" stroke-width="3.0"/>
<line x1="882.8" y1="1079.8" x2="894.4" y2="1079.8" stroke="#000" stroke-width="3.0"/>
<text x="879.5" y="1090.4" font-size="32.5" font-weight="700" text-anchor="end" textLength="42.1" lengthAdjust="spacingAndGlyphs" stroke="#000" stroke-width="0.45">1.5</text>
<line x1="882.8" y1="1195.3" x2="894.4" y2="1195.3" stroke="#000" stroke-width="3.0"/>
<text x="879.5" y="1205.9" font-size="32.5" font-weight="700" text-anchor="end" textLength="42.1" lengthAdjust="spacingAndGlyphs" stroke="#000" stroke-width="0.45">1.0</text>
<line x1="882.8" y1="1310.8" x2="894.4" y2="1310.8" stroke="#000" stroke-width="3.0"/>
<text x="879.5" y="1321.4" font-size="32.5" font-weight="700" text-anchor="end" textLength="42.1" lengthAdjust="spacingAndGlyphs" stroke="#000" stroke-width="0.45">0.5</text>
<text x="879.5" y="1436.9" font-size="32.5" font-weight="700" text-anchor="end" textLength="42.1" lengthAdjust="spacingAndGlyphs" stroke="#000" stroke-width="0.45">0.0</text>
<text x="824.6" y="1366.9" font-size="25.5" font-weight="700" font-style="italic" textLength="93.9" lengthAdjust="spacingAndGlyphs" stroke="#000" stroke-width="0.45" transform="rotate(-90 824.6 1366.9)">NFE2L2</text>
<text x="824.6" y="1265.1" font-size="25.5" font-weight="700" textLength="131.7" lengthAdjust="spacingAndGlyphs" stroke="#000" stroke-width="0.45" transform="rotate(-90 824.6 1265.1)">expression</text>
<rect x="908.9" y="1183.4" width="28.0" height="242.9" fill="#141414"/>
<rect x="944.6" y="1401.7" width="25.4" height="24.6" fill="url(#ha)" stroke="#000" stroke-width="2.4"/>
<rect x="979.2" y="1401.4" width="25.3" height="24.9" fill="url(#hb)" stroke="#000" stroke-width="2.4"/>
<circle cx="923.2" cy="1104.5" r="4.3" fill="#fff" stroke="#000" stroke-width="3.45"/>
<circle cx="923.2" cy="1125.1" r="4.3" fill="#fff" stroke="#000" stroke-width="3.45"/>
<circle cx="923.2" cy="1140.7" r="4.3" fill="#fff" stroke="#000" stroke-width="3.45"/>
<circle cx="913.9" cy="1154.4" r="4.3" fill="#fff" stroke="#000" stroke-width="3.45"/>
<circle cx="923.2" cy="1151.3" r="4.3" fill="#fff" stroke="#000" stroke-width="3.45"/>
<circle cx="932.6" cy="1152.9" r="4.3" fill="#fff" stroke="#000" stroke-width="3.45"/>
<circle cx="918.9" cy="1237.4" r="4.3" fill="#fff" stroke="#000" stroke-width="3.45"/>
<circle cx="927.9" cy="1235.9" r="4.3" fill="#fff" stroke="#000" stroke-width="3.45"/>
<circle cx="918.9" cy="1265.5" r="4.3" fill="#fff" stroke="#000" stroke-width="3.45"/>
<circle cx="927.9" cy="1264.0" r="4.3" fill="#fff" stroke="#000" stroke-width="3.45"/>
<circle cx="957.6" cy="1408.5" r="4.3" fill="#fff" stroke="#000" stroke-width="3.45"/>
<circle cx="952.3" cy="1373.0" r="4.3" fill="#fff" stroke="#000" stroke-width="3.45"/>
<circle cx="957.3" cy="1379.5" r="4.3" fill="#fff" stroke="#000" stroke-width="3.45"/>
<circle cx="947.3" cy="1410.5" r="4.3" fill="#fff" stroke="#000" stroke-width="3.45"/>
<circle cx="952.3" cy="1403.2" r="4.3" fill="#fff" stroke="#000" stroke-width="3.45"/>
<circle cx="967.3" cy="1403.2" r="4.3" fill="#fff" stroke="#000" stroke-width="3.45"/>
<circle cx="967.3" cy="1413.8" r="4.3" fill="#fff" stroke="#000" stroke-width="3.45"/>
<circle cx="982.1" cy="1410.2" r="4.3" fill="#fff" stroke="#000" stroke-width="3.45"/>
<circle cx="991.6" cy="1367.1" r="4.3" fill="#fff" stroke="#000" stroke-width="3.45"/>
<circle cx="988.3" cy="1380.1" r="4.3" fill="#fff" stroke="#000" stroke-width="3.45"/>
<circle cx="995.1" cy="1384.8" r="4.3" fill="#fff" stroke="#000" stroke-width="3.45"/>
<circle cx="991.6" cy="1403.2" r="4.3" fill="#fff" stroke="#000" stroke-width="3.45"/>
<circle cx="1001.9" cy="1412.6" r="4.3" fill="#fff" stroke="#000" stroke-width="3.45"/>
<circle cx="988.6" cy="1412.3" r="4.3" fill="#fff" stroke="#000" stroke-width="3.45"/>
<circle cx="981.8" cy="1420.0" r="4.3" fill="#fff" stroke="#000" stroke-width="3.45"/>
<circle cx="995.1" cy="1419.1" r="4.3" fill="#fff" stroke="#000" stroke-width="3.45"/>
<text x="941.0" y="1107.0" font-size="22.0" textLength="88.6" lengthAdjust="spacingAndGlyphs" fill="#161616" stroke="#161616" stroke-width="0.35">p&lt;0.0001</text>
<line x1="919.5" y1="1115.4" x2="995.0" y2="1115.4" stroke="#000" stroke-width="3.3"/>
<text x="944.1" y="1201.5" font-size="22.0" textLength="88.6" lengthAdjust="spacingAndGlyphs" fill="#161616" stroke="#161616" stroke-width="0.35">p&lt;0.0001</text>
<line x1="919.5" y1="1176.0" x2="962.2" y2="1176.0" stroke="#000" stroke-width="3.3"/>
<text x="1159.0" y="1019.0" font-size="29" font-weight="700" textLength="14.6" lengthAdjust="spacingAndGlyphs" fill="#161616" stroke="#161616" stroke-width="0.45">k</text>
<defs><linearGradient id="bg1" x1="0" x2="1" y1="0" y2="0"><stop offset="0" stop-color="#8a8a8a"/><stop offset="0.28" stop-color="#9c9c9c"/><stop offset="0.34" stop-color="#b2b2b2"/><stop offset="1" stop-color="#ababab"/></linearGradient><clipPath id="cb1"><rect x="1231.6" y="1206.9" width="140.7" height="53.2"/></clipPath><clipPath id="cb2"><rect x="1231.6" y="1273" width="140.7" height="42.4"/></clipPath></defs>
<rect x="1231.6" y="1206.9" width="140.7" height="53.2" fill="url(#bg1)"/>
<g clip-path="url(#cb1)"><rect x="1242" y="1241" width="30" height="18" fill="#6a6a6a" opacity="0.6" filter="url(#bl3)"/><rect x="1236" y="1210" width="40" height="40" fill="#777" opacity="0.45" filter="url(#bl3)"/><ellipse cx="1257.8" cy="1228.3" rx="14.5" ry="4.6" fill="#000" filter="url(#bl2)"/><ellipse cx="1256" cy="1250.5" rx="14" ry="3.2" fill="#3a3a3a" opacity="0.8" filter="url(#bl2)"/><ellipse cx="1300" cy="1250" rx="16" ry="3" fill="#777" opacity="0.6" filter="url(#bl2)"/><ellipse cx="1345" cy="1250" rx="14" ry="3" fill="#888" opacity="0.5" filter="url(#bl2)"/></g>
<rect x="1231.6" y="1206.9" width="140.7" height="53.2" fill="none" stroke="#2a2a2a" stroke-width="1.2"/>
<rect x="1231.6" y="1273.0" width="140.7" height="42.4" fill="#e6e6e6"/>
<g clip-path="url(#cb2)"><ellipse cx="1260" cy="1292.3" rx="16" ry="3" fill="#111" filter="url(#bl2)" transform="rotate(4 1260 1292.3)"/><ellipse cx="1303.3" cy="1293.2" rx="17" ry="2.7" fill="#1a1a1a" filter="url(#bl2)" transform="rotate(-3 1303 1293)"/><ellipse cx="1348.5" cy="1291.8" rx="17.5" ry="3.4" fill="#080808" filter="url(#bl2)"/></g>
<rect x="1231.6" y="1273" width="140.7" height="42.4" fill="none" stroke="#2a2a2a" stroke-width="1.2"/>
<text x="1147.5" y="1243.3" font-size="28" font-weight="700" textLength="74.0" lengthAdjust="spacingAndGlyphs" stroke="#000" stroke-width="0.45">NRF2</text>
<text x="1119.5" y="1302.8" font-size="28" font-weight="700" textLength="102.5" lengthAdjust="spacingAndGlyphs" stroke="#000" stroke-width="0.45">GAPDH</text>
<text x="1264.3" y="1201.7" font-size="25" font-weight="700" textLength="59.5" lengthAdjust="spacingAndGlyphs" stroke="#000" stroke-width="0.45" transform="rotate(-90 1264.3 1201.7)">siCO</text>
<text x="1307.8" y="1201.7" font-size="25" font-weight="700" textLength="91.0" lengthAdjust="spacingAndGlyphs" stroke="#000" stroke-width="0.45" transform="rotate(-90 1307.8 1201.7)">siNRF2a</text>
<text x="1356.1" y="1201.7" font-size="25" font-weight="700" textLength="93.0" lengthAdjust="spacingAndGlyphs" stroke="#000" stroke-width="0.45" transform="rotate(-90 1356.1 1201.7)">siNRF2b</text>
<line x1="1356.1" y1="1246.9" x2="1388.6" y2="1246.9" stroke="#000" stroke-width="2.6"/>
<line x1="1356.1" y1="1306.4" x2="1388.6" y2="1306.4" stroke="#000" stroke-width="2.6"/>
<text x="1390.3" y="1254.1" font-size="21.5" textLength="66.0" lengthAdjust="spacingAndGlyphs" stroke="#000" stroke-width="0.35">90KDa</text>
<text x="1388.5" y="1316.9" font-size="21.5" textLength="66.0" lengthAdjust="spacingAndGlyphs" stroke="#000" stroke-width="0.35">30KDa</text>
<text x="1571.8" y="1015.7" font-size="29" font-weight="700" textLength="7.3" lengthAdjust="spacingAndGlyphs" fill="#161616" stroke="#161616" stroke-width="0.45">l</text>
<rect x="1667.1" y="1015.8" width="20.0" height="19.6" fill="#000"/>
<text x="1690.2" y="1036.5" font-size="24.5" font-weight="700" textLength="66.4" lengthAdjust="spacingAndGlyphs" stroke="#000" stroke-width="0.45">shCO</text>
<rect x="1667.1" y="1042.1" width="20.0" height="20.8" fill="url(#ha)"/>
<text x="1690.2" y="1061.0" font-size="24.5" font-weight="700" textLength="93.1" lengthAdjust="spacingAndGlyphs" stroke="#000" stroke-width="0.45">shNrf2a</text>
<rect x="1667.1" y="1066.3" width="20.0" height="21.2" fill="url(#hb)"/>
<text x="1690.2" y="1085.7" font-size="24.5" font-weight="700" textLength="94.4" lengthAdjust="spacingAndGlyphs" stroke="#000" stroke-width="0.45">shNrf2b</text>
<line x1="1653.0" y1="1076.5" x2="1653.0" y2="1427.1" stroke="#000" stroke-width="3.2"/>
<line x1="1641.4" y1="1425.5" x2="1779.3" y2="1425.5" stroke="#000" stroke-width="3.2"/>
<line x1="1641.4" y1="1078.1" x2="1653.0" y2="1078.1" stroke="#000" stroke-width="3.2"/>
<text x="1638.8" y="1088.7" font-size="32.5" font-weight="700" text-anchor="end" textLength="42.1" lengthAdjust="spacingAndGlyphs" stroke="#000" stroke-width="0.45">1.5</text>
<line x1="1641.4" y1="1193.9" x2="1653.0" y2="1193.9" stroke="#000" stroke-width="3.2"/>
<text x="1638.8" y="1204.5" font-size="32.5" font-weight="700" text-anchor="end" textLength="42.1" lengthAdjust="spacingAndGlyphs" stroke="#000" stroke-width="0.45">1.0</text>
<line x1="1641.4" y1="1309.7" x2="1653.0" y2="1309.7" stroke="#000" stroke-width="3.2"/>
<text x="1638.8" y="1320.3" font-size="32.5" font-weight="700" text-anchor="end" textLength="42.1" lengthAdjust="spacingAndGlyphs" stroke="#000" stroke-width="0.45">0.5</text>
<text x="1638.8" y="1436.1" font-size="32.5" font-weight="700" text-anchor="end" textLength="42.1" lengthAdjust="spacingAndGlyphs" stroke="#000" stroke-width="0.45">0.0</text>
<text x="1583.4" y="1367.5" font-size="29.5" font-weight="700" font-style="italic" textLength="86.0" lengthAdjust="spacingAndGlyphs" stroke="#000" stroke-width="0.45" transform="rotate(-90 1583.4 1367.5)">Nfe2l2</text>
<text x="1583.4" y="1274.1" font-size="29.5" font-weight="700" textLength="147.3" lengthAdjust="spacingAndGlyphs" stroke="#000" stroke-width="0.45" transform="rotate(-90 1583.4 1274.1)">expression</text>
<rect x="1667.0" y="1194.4" width="29.0" height="231.1" fill="#141414"/>
<rect x="1703.5" y="1381.0" width="24.8" height="44.5" fill="url(#ha)" stroke="#000" stroke-width="3"/>
<rect x="1737.6" y="1381.0" width="25.1" height="44.5" fill="url(#hb)" stroke="#000" stroke-width="3"/>
<circle cx="1682.0" cy="1145.1" r="4.3" fill="#fff" stroke="#000" stroke-width="3.45"/>
<circle cx="1682.0" cy="1162.2" r="4.3" fill="#fff" stroke="#000" stroke-width="3.45"/>
<circle cx="1682.0" cy="1193.4" r="4.3" fill="#fff" stroke="#000" stroke-width="3.45"/>
<circle cx="1682.0" cy="1225.6" r="4.3" fill="#fff" stroke="#000" stroke-width="3.45"/>
<circle cx="1682.0" cy="1243.4" r="4.3" fill="#fff" stroke="#000" stroke-width="3.45"/>
<circle cx="1706.3" cy="1370.0" r="4.3" fill="#fff" stroke="#000" stroke-width="3.45"/>
<circle cx="1716.3" cy="1376.9" r="4.3" fill="#fff" stroke="#000" stroke-width="3.45"/>
<circle cx="1726.3" cy="1380.0" r="4.3" fill="#fff" stroke="#000" stroke-width="3.45"/>
<circle cx="1706.3" cy="1380.0" r="4.3" fill="#fff" stroke="#000" stroke-width="3.45"/>
<circle cx="1716.3" cy="1387.8" r="4.3" fill="#fff" stroke="#000" stroke-width="3.45"/>
<circle cx="1716.3" cy="1397.2" r="4.3" fill="#fff" stroke="#000" stroke-width="3.45"/>
<circle cx="1750.6" cy="1346.6" r="4.3" fill="#fff" stroke="#000" stroke-width="3.45"/>
<circle cx="1750.6" cy="1371.3" r="4.3" fill="#fff" stroke="#000" stroke-width="3.45"/>
<circle cx="1740.6" cy="1376.9" r="4.3" fill="#fff" stroke="#000" stroke-width="3.45"/>
<circle cx="1760.9" cy="1380.0" r="4.3" fill="#fff" stroke="#000" stroke-width="3.45"/>
<circle cx="1750.6" cy="1388.8" r="4.3" fill="#fff" stroke="#000" stroke-width="3.45"/>
<circle cx="1750.6" cy="1398.1" r="4.3" fill="#fff" stroke="#000" stroke-width="3.45"/>
<text x="1691.0" y="1121.7" font-size="22.0" textLength="88.6" lengthAdjust="spacingAndGlyphs" fill="#161616" stroke="#161616" stroke-width="0.35">p&lt;0.0001</text>
<line x1="1677.3" y1="1127.6" x2="1752.8" y2="1127.6" stroke="#000" stroke-width="3.3"/>
<text x="1698.2" y="1173.2" font-size="22.0" textLength="88.6" lengthAdjust="spacingAndGlyphs" fill="#161616" stroke="#161616" stroke-width="0.35">p&lt;0.0001</text>
<line x1="1679.5" y1="1180.0" x2="1721.9" y2="1180.0" stroke="#000" stroke-width="3.3"/>
</svg>
</body></html>
